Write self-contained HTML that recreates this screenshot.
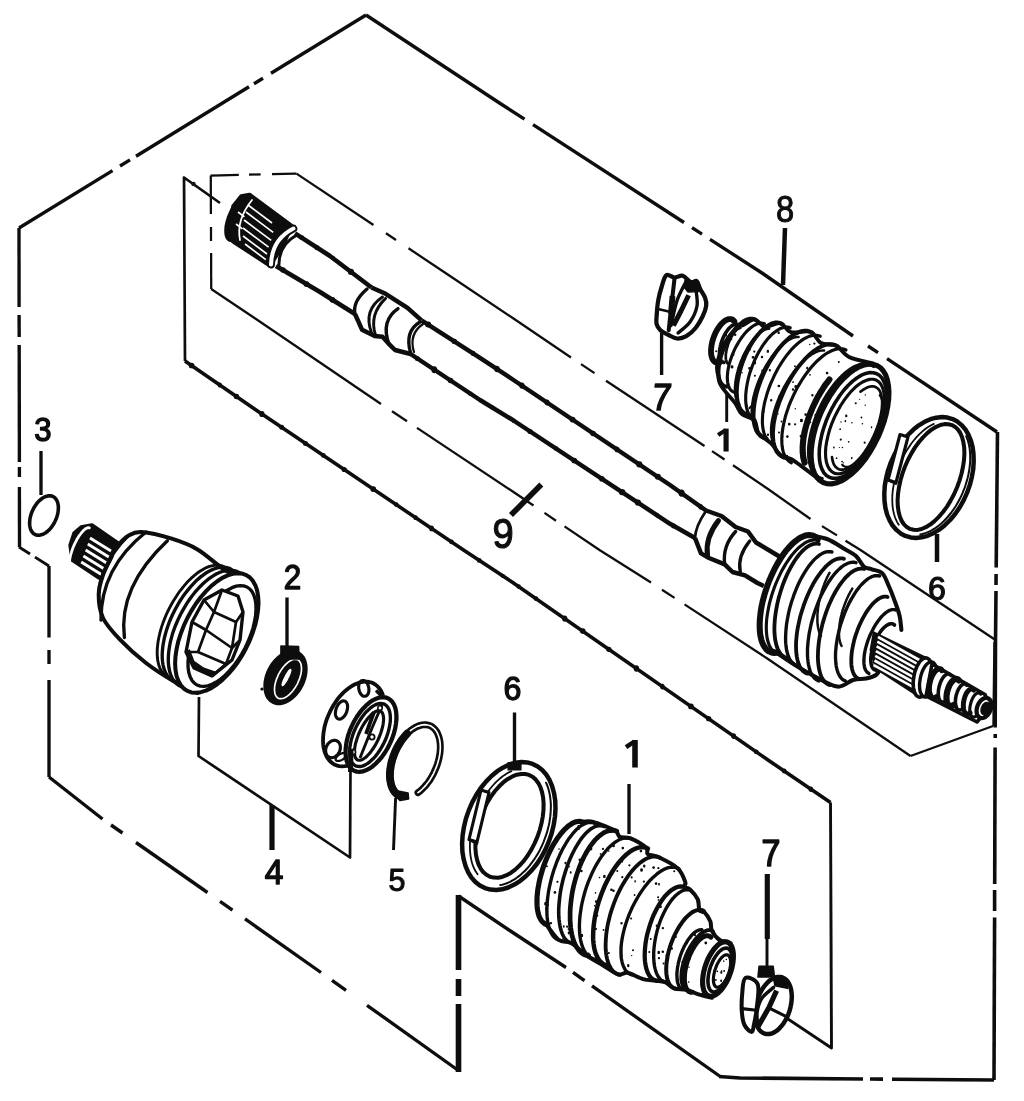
<!DOCTYPE html>
<html><head><meta charset="utf-8"><title>Drive shaft exploded diagram</title>
<style>
html,body{margin:0;padding:0;background:#fff;}
body{width:1024px;height:1101px;overflow:hidden;font-family:"Liberation Sans",sans-serif;}
svg{display:block;}
text{font-family:"Liberation Sans",sans-serif;}
</style></head><body>
<svg width="1024" height="1101" viewBox="0 0 1024 1101">
<defs><filter id="soft" x="-2%" y="-2%" width="104%" height="104%"><feGaussianBlur stdDeviation="0.65"/></filter></defs>
<rect width="1024" height="1101" fill="#ffffff"/>
<g filter="url(#soft)">
<path d="M19.0,228.0 L112.5,170.6" fill="none" stroke="#0c0c0c" stroke-width="3.36" stroke-linecap="butt" stroke-linejoin="round"/>
<path d="M120.0,166.0 L130.0,159.9" fill="none" stroke="#0c0c0c" stroke-width="3.36" stroke-linecap="butt" stroke-linejoin="round"/>
<path d="M136.0,156.2 L249.0,86.8" fill="none" stroke="#0c0c0c" stroke-width="3.36" stroke-linecap="butt" stroke-linejoin="round"/>
<path d="M254.0,83.7 L263.0,78.2" fill="none" stroke="#0c0c0c" stroke-width="3.36" stroke-linecap="butt" stroke-linejoin="round"/>
<path d="M271.0,73.3 L366.0,15.0" fill="none" stroke="#0c0c0c" stroke-width="3.36" stroke-linecap="butt" stroke-linejoin="round"/>
<path d="M366.0,15.0 L501.0,104.0 L524.5,119.2" fill="none" stroke="#0c0c0c" stroke-width="3.36" stroke-linecap="butt" stroke-linejoin="round"/>
<path d="M533.0,124.7 L684.0,222.5" fill="none" stroke="#0c0c0c" stroke-width="3.36" stroke-linecap="butt" stroke-linejoin="round"/>
<path d="M692.0,227.7 L702.0,234.1" fill="none" stroke="#0c0c0c" stroke-width="3.36" stroke-linecap="butt" stroke-linejoin="round"/>
<path d="M710.0,239.3 L762.0,273.0 L853.0,336.0" fill="none" stroke="#0c0c0c" stroke-width="3.36" stroke-linecap="butt" stroke-linejoin="round"/>
<path d="M868.0,346.0 L878.0,352.7" fill="none" stroke="#0c0c0c" stroke-width="3.36" stroke-linecap="butt" stroke-linejoin="round"/>
<path d="M887.0,358.7 L997.0,432.0" fill="none" stroke="#0c0c0c" stroke-width="3.36" stroke-linecap="butt" stroke-linejoin="round"/>
<path d="M997.5,432.0 L996.2,567.5" fill="none" stroke="#0c0c0c" stroke-width="3.58" stroke-linecap="butt" stroke-linejoin="round"/>
<path d="M996.1,574.0 L996.0,585.0" fill="none" stroke="#0c0c0c" stroke-width="3.58" stroke-linecap="butt" stroke-linejoin="round"/>
<path d="M996.0,591.0 L995.5,640.0 L995.2,727.5" fill="none" stroke="#0c0c0c" stroke-width="3.58" stroke-linecap="butt" stroke-linejoin="round"/>
<path d="M995.2,734.0 L995.2,738.0" fill="none" stroke="#0c0c0c" stroke-width="3.58" stroke-linecap="butt" stroke-linejoin="round"/>
<path d="M995.1,747.5 L994.7,884.0" fill="none" stroke="#0c0c0c" stroke-width="3.58" stroke-linecap="butt" stroke-linejoin="round"/>
<path d="M994.6,890.0 L994.6,911.0" fill="none" stroke="#0c0c0c" stroke-width="3.58" stroke-linecap="butt" stroke-linejoin="round"/>
<path d="M994.6,917.5 L994.0,1080.0" fill="none" stroke="#0c0c0c" stroke-width="3.58" stroke-linecap="butt" stroke-linejoin="round"/>
<path d="M719.0,1076.5 L740.0,1078.0 L863.0,1079.0" fill="none" stroke="#0c0c0c" stroke-width="3.58" stroke-linecap="butt" stroke-linejoin="round"/>
<path d="M870.0,1079.0 L883.0,1079.1" fill="none" stroke="#0c0c0c" stroke-width="3.58" stroke-linecap="butt" stroke-linejoin="round"/>
<path d="M892.0,1079.2 L994.0,1080.0" fill="none" stroke="#0c0c0c" stroke-width="3.58" stroke-linecap="butt" stroke-linejoin="round"/>
<path d="M458.5,896.0 L512.0,932.0 L566.0,967.5" fill="none" stroke="#0c0c0c" stroke-width="3.36" stroke-linecap="butt" stroke-linejoin="round"/>
<path d="M573.0,972.4 L584.5,980.6" fill="none" stroke="#0c0c0c" stroke-width="3.36" stroke-linecap="butt" stroke-linejoin="round"/>
<path d="M592.0,985.9 L719.5,1076.0" fill="none" stroke="#0c0c0c" stroke-width="3.36" stroke-linecap="butt" stroke-linejoin="round"/>
<path d="M458.5,895.0 L458.5,970.0" fill="none" stroke="#0c0c0c" stroke-width="5.60" stroke-linecap="butt" stroke-linejoin="round"/>
<path d="M458.5,979.0 L458.5,996.0" fill="none" stroke="#0c0c0c" stroke-width="5.60" stroke-linecap="butt" stroke-linejoin="round"/>
<path d="M458.5,1004.0 L458.5,1072.0" fill="none" stroke="#0c0c0c" stroke-width="5.60" stroke-linecap="butt" stroke-linejoin="round"/>
<path d="M49.0,777.0 L102.5,819.0" fill="none" stroke="#0c0c0c" stroke-width="3.36" stroke-linecap="butt" stroke-linejoin="round"/>
<path d="M111.0,825.0 L122.5,833.0" fill="none" stroke="#0c0c0c" stroke-width="3.36" stroke-linecap="butt" stroke-linejoin="round"/>
<path d="M136.0,842.5 L207.5,892.5" fill="none" stroke="#0c0c0c" stroke-width="3.36" stroke-linecap="butt" stroke-linejoin="round"/>
<path d="M220.0,901.3 L232.5,910.1" fill="none" stroke="#0c0c0c" stroke-width="3.36" stroke-linecap="butt" stroke-linejoin="round"/>
<path d="M245.0,918.9 L321.0,972.5" fill="none" stroke="#0c0c0c" stroke-width="3.36" stroke-linecap="butt" stroke-linejoin="round"/>
<path d="M332.0,980.3 L346.0,990.3" fill="none" stroke="#0c0c0c" stroke-width="3.36" stroke-linecap="butt" stroke-linejoin="round"/>
<path d="M367.0,1005.3 L457.0,1069.5" fill="none" stroke="#0c0c0c" stroke-width="3.36" stroke-linecap="butt" stroke-linejoin="round"/>
<path d="M49.0,566.0 L49.0,637.5" fill="none" stroke="#0c0c0c" stroke-width="3.36" stroke-linecap="butt" stroke-linejoin="round"/>
<path d="M49.0,650.0 L49.0,664.0" fill="none" stroke="#0c0c0c" stroke-width="3.36" stroke-linecap="butt" stroke-linejoin="round"/>
<path d="M49.0,680.0 L49.0,777.0" fill="none" stroke="#0c0c0c" stroke-width="3.36" stroke-linecap="butt" stroke-linejoin="round"/>
<path d="M19.0,547.0 L30.0,554.0" fill="none" stroke="#0c0c0c" stroke-width="2.80" stroke-linecap="butt" stroke-linejoin="round"/>
<path d="M35.0,557.1 L49.0,566.0" fill="none" stroke="#0c0c0c" stroke-width="2.80" stroke-linecap="butt" stroke-linejoin="round"/>
<path d="M19.0,228.0 L19.1,307.0" fill="none" stroke="#0c0c0c" stroke-width="3.36" stroke-linecap="butt" stroke-linejoin="round"/>
<path d="M19.1,315.0 L19.2,337.0" fill="none" stroke="#0c0c0c" stroke-width="3.36" stroke-linecap="butt" stroke-linejoin="round"/>
<path d="M19.2,345.0 L19.4,462.0" fill="none" stroke="#0c0c0c" stroke-width="3.36" stroke-linecap="butt" stroke-linejoin="round"/>
<path d="M19.4,467.0 L19.4,477.0" fill="none" stroke="#0c0c0c" stroke-width="3.36" stroke-linecap="butt" stroke-linejoin="round"/>
<path d="M19.4,487.0 L19.5,547.0" fill="none" stroke="#0c0c0c" stroke-width="3.36" stroke-linecap="butt" stroke-linejoin="round"/>
<path d="M220.0,203.0 L184.0,177.5 L185.0,361.0" fill="none" stroke="#0c0c0c" stroke-width="2.69" stroke-linecap="butt" stroke-linejoin="round"/>
<path d="M185.0,361.0 L256.0,410.0 L463.5,550.0 L512.0,582.0 L768.0,760.0 L830.5,802.5" fill="none" stroke="#0c0c0c" stroke-width="3.58" stroke-linecap="butt" stroke-linejoin="round"/>
<path d="M188.7,365.5a2.8,2.8 0 1,0 5.7,0a2.8,2.8 0 1,0 -5.7,0M217.8,385.0a2.0,2.0 0 1,0 3.9,0a2.0,2.0 0 1,0 -3.9,0M233.7,396.5a2.7,2.7 0 1,0 5.4,0a2.7,2.7 0 1,0 -5.4,0M259.3,414.0a2.6,2.6 0 1,0 5.1,0a2.6,2.6 0 1,0 -5.1,0M279.2,427.3a2.5,2.5 0 1,0 5.0,0a2.5,2.5 0 1,0 -5.0,0M303.0,443.4a2.5,2.5 0 1,0 5.0,0a2.5,2.5 0 1,0 -5.0,0M321.0,455.4a2.3,2.3 0 1,0 4.7,0a2.3,2.3 0 1,0 -4.7,0M341.6,469.5a2.6,2.6 0 1,0 5.2,0a2.6,2.6 0 1,0 -5.2,0M370.4,489.1a2.8,2.8 0 1,0 5.7,0a2.8,2.8 0 1,0 -5.7,0M393.9,504.6a2.3,2.3 0 1,0 4.7,0a2.3,2.3 0 1,0 -4.7,0M413.6,517.6a2.0,2.0 0 1,0 3.9,0a2.0,2.0 0 1,0 -3.9,0M429.2,528.4a2.4,2.4 0 1,0 4.7,0a2.4,2.4 0 1,0 -4.7,0M449.2,541.9a2.3,2.3 0 1,0 4.6,0a2.3,2.3 0 1,0 -4.6,0M476.8,560.4a2.4,2.4 0 1,0 4.8,0a2.4,2.4 0 1,0 -4.8,0M500.5,575.8a2.1,2.1 0 1,0 4.3,0a2.1,2.1 0 1,0 -4.3,0M516.4,586.6a2.2,2.2 0 1,0 4.5,0a2.2,2.2 0 1,0 -4.5,0M533.5,598.6a2.4,2.4 0 1,0 4.8,0a2.4,2.4 0 1,0 -4.8,0M562.2,618.7a2.6,2.6 0 1,0 5.1,0a2.6,2.6 0 1,0 -5.1,0M579.9,631.1a2.8,2.8 0 1,0 5.6,0a2.8,2.8 0 1,0 -5.6,0M606.2,649.3a2.6,2.6 0 1,0 5.3,0a2.6,2.6 0 1,0 -5.3,0M633.7,668.5a2.7,2.7 0 1,0 5.3,0a2.7,2.7 0 1,0 -5.3,0M660.1,686.6a2.3,2.3 0 1,0 4.5,0a2.3,2.3 0 1,0 -4.5,0M688.1,706.4a2.8,2.8 0 1,0 5.7,0a2.8,2.8 0 1,0 -5.7,0M706.0,718.7a2.6,2.6 0 1,0 5.3,0a2.6,2.6 0 1,0 -5.3,0M731.3,736.1a2.4,2.4 0 1,0 4.7,0a2.4,2.4 0 1,0 -4.7,0M753.8,751.8a2.4,2.4 0 1,0 4.8,0a2.4,2.4 0 1,0 -4.8,0M781.7,771.0a2.4,2.4 0 1,0 4.8,0a2.4,2.4 0 1,0 -4.8,0M808.6,789.2a2.3,2.3 0 1,0 4.5,0a2.3,2.3 0 1,0 -4.5,0" fill="#0c0c0c"/>
<path d="M830.5,802.5 L831.5,1048.0 L773.0,1009.0" fill="none" stroke="#0c0c0c" stroke-width="2.91" stroke-linecap="butt" stroke-linejoin="round"/>
<circle cx="193.5" cy="184" r="2.2" fill="#141414"/>
<path d="M994.5,642.0 L993.5,726.0" fill="none" stroke="#0c0c0c" stroke-width="2.46" stroke-linecap="butt" stroke-linejoin="round"/>
<path d="M210.6,175.6 L238.8,174.9" fill="none" stroke="#0c0c0c" stroke-width="2.24" stroke-linecap="butt" stroke-linejoin="round"/>
<path d="M249.0,174.7 L260.6,174.4" fill="none" stroke="#0c0c0c" stroke-width="2.24" stroke-linecap="butt" stroke-linejoin="round"/>
<path d="M272.0,174.2 L296.5,173.6" fill="none" stroke="#0c0c0c" stroke-width="2.24" stroke-linecap="butt" stroke-linejoin="round"/>
<path d="M210.8,175.6 L210.9,214.0" fill="none" stroke="#0c0c0c" stroke-width="2.24" stroke-linecap="butt" stroke-linejoin="round"/>
<path d="M211.0,227.0 L211.0,241.0" fill="none" stroke="#0c0c0c" stroke-width="2.24" stroke-linecap="butt" stroke-linejoin="round"/>
<path d="M211.1,253.0 L211.2,289.0" fill="none" stroke="#0c0c0c" stroke-width="2.24" stroke-linecap="butt" stroke-linejoin="round"/>
<path d="M296.5,173.6 L373.5,225.0" fill="none" stroke="#0c0c0c" stroke-width="2.24" stroke-linecap="butt" stroke-linejoin="round"/>
<path d="M386.0,233.3 L396.0,240.0" fill="none" stroke="#0c0c0c" stroke-width="2.24" stroke-linecap="butt" stroke-linejoin="round"/>
<path d="M408.5,248.3 L448.5,275.0 L512.0,317.5 L571.0,357.5" fill="none" stroke="#0c0c0c" stroke-width="2.24" stroke-linecap="butt" stroke-linejoin="round"/>
<path d="M581.0,364.1 L594.5,373.1" fill="none" stroke="#0c0c0c" stroke-width="2.24" stroke-linecap="butt" stroke-linejoin="round"/>
<path d="M606.0,380.7 L704.5,446.0" fill="none" stroke="#0c0c0c" stroke-width="2.24" stroke-linecap="butt" stroke-linejoin="round"/>
<path d="M712.0,451.1 L724.5,459.5" fill="none" stroke="#0c0c0c" stroke-width="2.24" stroke-linecap="butt" stroke-linejoin="round"/>
<path d="M733.0,465.3 L768.0,489.0 L810.5,519.0" fill="none" stroke="#0c0c0c" stroke-width="2.24" stroke-linecap="butt" stroke-linejoin="round"/>
<path d="M822.0,526.1 L837.0,535.4" fill="none" stroke="#0c0c0c" stroke-width="2.24" stroke-linecap="butt" stroke-linejoin="round"/>
<path d="M845.5,540.7 L860.5,550.0 L995.5,640.0" fill="none" stroke="#0c0c0c" stroke-width="2.24" stroke-linecap="butt" stroke-linejoin="round"/>
<path d="M211.2,289.0 L256.0,319.0 L381.0,404.0" fill="none" stroke="#0c0c0c" stroke-width="2.24" stroke-linecap="butt" stroke-linejoin="round"/>
<path d="M392.0,411.3 L407.0,421.3" fill="none" stroke="#0c0c0c" stroke-width="2.24" stroke-linecap="butt" stroke-linejoin="round"/>
<path d="M417.0,427.9 L512.0,491.0 L533.5,505.5" fill="none" stroke="#0c0c0c" stroke-width="2.24" stroke-linecap="butt" stroke-linejoin="round"/>
<path d="M544.5,512.9 L556.0,520.7" fill="none" stroke="#0c0c0c" stroke-width="2.24" stroke-linecap="butt" stroke-linejoin="round"/>
<path d="M564.5,526.4 L599.5,550.0 L651.0,582.5" fill="none" stroke="#0c0c0c" stroke-width="2.24" stroke-linecap="butt" stroke-linejoin="round"/>
<path d="M662.0,589.7 L674.5,597.9" fill="none" stroke="#0c0c0c" stroke-width="2.24" stroke-linecap="butt" stroke-linejoin="round"/>
<path d="M684.5,604.4 L768.0,659.0 L910.5,756.0" fill="none" stroke="#0c0c0c" stroke-width="2.24" stroke-linecap="butt" stroke-linejoin="round"/>
<path d="M910.5,756.0 L993.0,726.0" fill="none" stroke="#0c0c0c" stroke-width="2.24" stroke-linecap="butt" stroke-linejoin="round"/>
<path d="M199.0,697.0 L198.5,756.0 L350.0,857.5 L350.5,769.0" fill="none" stroke="#0c0c0c" stroke-width="2.69" stroke-linecap="butt" stroke-linejoin="round"/>
<path d="M272.0,805.0 L272.0,850.0" fill="none" stroke="#0c0c0c" stroke-width="5.15" stroke-linecap="butt" stroke-linejoin="round"/>
<path d="M785.0,228.0 L783.0,285.0" fill="none" stroke="#0c0c0c" stroke-width="4.48" stroke-linecap="butt" stroke-linejoin="round"/>
<path d="M661.6,333.0 L661.6,375.0" fill="none" stroke="#0c0c0c" stroke-width="3.36" stroke-linecap="butt" stroke-linejoin="round"/>
<path d="M726.7,392.0 L726.7,422.0" fill="none" stroke="#0c0c0c" stroke-width="2.91" stroke-linecap="butt" stroke-linejoin="round"/>
<path d="M541.3,484.6 L511.0,515.0" fill="none" stroke="#0c0c0c" stroke-width="5.60" stroke-linecap="butt" stroke-linejoin="round"/>
<path d="M41.0,451.0 L41.0,495.0" fill="none" stroke="#0c0c0c" stroke-width="3.36" stroke-linecap="butt" stroke-linejoin="round"/>
<path d="M287.0,597.5 L287.0,646.0" fill="none" stroke="#0c0c0c" stroke-width="3.36" stroke-linecap="butt" stroke-linejoin="round"/>
<path d="M514.5,712.5 L514.5,763.0" fill="none" stroke="#0c0c0c" stroke-width="3.36" stroke-linecap="butt" stroke-linejoin="round"/>
<path d="M629.0,784.0 L629.0,834.0" fill="none" stroke="#0c0c0c" stroke-width="3.36" stroke-linecap="butt" stroke-linejoin="round"/>
<path d="M395.6,798.0 L393.5,850.0" fill="none" stroke="#0c0c0c" stroke-width="2.91" stroke-linecap="butt" stroke-linejoin="round"/>
<path d="M937.0,534.0 L937.0,562.0" fill="none" stroke="#0c0c0c" stroke-width="4.48" stroke-linecap="butt" stroke-linejoin="round"/>
<path d="M767.3,874.0 L767.3,939.0" fill="none" stroke="#0c0c0c" stroke-width="5.15" stroke-linecap="butt" stroke-linejoin="round"/>
<path d="M767.0,939.0 L767.0,967.0" fill="none" stroke="#0c0c0c" stroke-width="2.91" stroke-linecap="butt" stroke-linejoin="round"/>
<text transform="translate(785,222) skewX(0) scale(0.9,1)" x="0" y="0" font-size="36.3" text-anchor="middle" font-weight="normal" fill="#0c0c0c" stroke="#0c0c0c" stroke-width="1.0" stroke-linejoin="round">8</text>
<text transform="translate(660.5,410) skewX(-6) scale(0.9,1)" x="0" y="0" font-size="37.7" text-anchor="middle" font-weight="normal" fill="#0c0c0c" stroke="#0c0c0c" stroke-width="1.7" stroke-linejoin="round">7</text>
<path d="M726.1,428.6 L726.1,451.5" fill="none" stroke="#0c0c0c" stroke-width="5.15" stroke-linecap="butt" stroke-linejoin="round"/>
<path d="M725.6,430.1 L718.1,435.0" fill="none" stroke="#0c0c0c" stroke-width="4.12" stroke-linecap="butt" stroke-linejoin="round"/>
<text transform="translate(503,548) skewX(0) scale(0.88,1)" x="0" y="0" font-size="43.3" text-anchor="middle" font-weight="normal" fill="#0c0c0c" stroke="#0c0c0c" stroke-width="1.2" stroke-linejoin="round">9</text>
<text transform="translate(43,441) skewX(0) scale(0.95,1)" x="0" y="0" font-size="32.8" text-anchor="middle" font-weight="normal" fill="#0c0c0c" stroke="#0c0c0c" stroke-width="1.4" stroke-linejoin="round">3</text>
<text transform="translate(292.5,589) skewX(0) scale(0.92,1)" x="0" y="0" font-size="34.2" text-anchor="middle" font-weight="normal" fill="#0c0c0c" stroke="#0c0c0c" stroke-width="1.4" stroke-linejoin="round">2</text>
<text transform="translate(512.5,700) skewX(0) scale(0.98,1)" x="0" y="0" font-size="32.8" text-anchor="middle" font-weight="normal" fill="#0c0c0c" stroke="#0c0c0c" stroke-width="1.3" stroke-linejoin="round">6</text>
<path d="M635.0,740.0 L635.0,767.5" fill="none" stroke="#0c0c0c" stroke-width="5.60" stroke-linecap="butt" stroke-linejoin="round"/>
<path d="M634.5,741.5 L626.0,747.2" fill="none" stroke="#0c0c0c" stroke-width="4.48" stroke-linecap="butt" stroke-linejoin="round"/>
<text transform="translate(274,884) skewX(0) scale(0.98,1)" x="0" y="0" font-size="34.2" text-anchor="middle" font-weight="normal" fill="#0c0c0c" stroke="#0c0c0c" stroke-width="1.4" stroke-linejoin="round">4</text>
<text transform="translate(397,891) skewX(0) scale(0.95,1)" x="0" y="0" font-size="32.1" text-anchor="middle" font-weight="normal" fill="#0c0c0c" stroke="#0c0c0c" stroke-width="1.1" stroke-linejoin="round">5</text>
<text transform="translate(937,600) skewX(0) scale(0.98,1)" x="0" y="0" font-size="32.8" text-anchor="middle" font-weight="normal" fill="#0c0c0c" stroke="#0c0c0c" stroke-width="1.2" stroke-linejoin="round">6</text>
<text transform="translate(771,865.5) skewX(0) scale(0.9,1)" x="0" y="0" font-size="37.7" text-anchor="middle" font-weight="normal" fill="#0c0c0c" stroke="#0c0c0c" stroke-width="1.6" stroke-linejoin="round">7</text>
<path d="M249.7,194.4 L291.9,225.6 L283.0,246.0 L270.0,266.0 L232.5,241.5 L229.0,225.0 L233.0,206.0 L241.0,196.0 Z" fill="#0c0c0c" stroke="#0c0c0c" stroke-width="3.36" stroke-linejoin="round"/>
<path d="M248.4,195.9 L249.5,196.6 L250.4,197.7 L251.2,199.1 L251.7,200.8 L252.0,202.9 L252.1,205.1 L252.0,207.7 L251.7,210.3 L251.1,213.2 L250.3,216.1 L249.4,219.0 L248.2,221.9 L246.9,224.8 L245.5,227.5 L243.9,230.1 L242.3,232.4 L240.6,234.5 L238.9,236.4 L237.2,237.9 L235.5,239.1 L233.9,239.9 L232.3,240.4 L230.9,240.4 L229.6,240.1 L228.5,239.4 L227.6,238.3 L226.8,236.9 L226.3,235.2 L226.0,233.1 L225.9,230.9 L226.0,228.3 L226.3,225.7 L226.9,222.8 L227.7,219.9 L228.6,217.0 L229.8,214.1 L231.1,211.2 L232.5,208.5 L234.1,205.9 L235.7,203.6 L237.4,201.5 L239.1,199.6 L240.8,198.1 L242.5,196.9 L244.1,196.1 L245.7,195.6 L247.1,195.6 L248.4,195.9 Z" fill="#0c0c0c" stroke="#0c0c0c" stroke-width="3.36" stroke-linecap="round" stroke-linejoin="round"/>
<path d="M248.0,205.0 L272.0,223.0" fill="none" stroke="#fff" stroke-width="1.68" stroke-linecap="butt" stroke-linejoin="round"/>
<path d="M246.0,212.0 L273.2,232.4" fill="none" stroke="#fff" stroke-width="1.68" stroke-linecap="butt" stroke-linejoin="round"/>
<path d="M244.0,220.0 L271.2,240.4" fill="none" stroke="#fff" stroke-width="1.68" stroke-linecap="butt" stroke-linejoin="round"/>
<path d="M243.0,228.0 L268.6,247.2" fill="none" stroke="#fff" stroke-width="1.68" stroke-linecap="butt" stroke-linejoin="round"/>
<path d="M243.0,236.0 L267.0,254.0" fill="none" stroke="#fff" stroke-width="1.68" stroke-linecap="butt" stroke-linejoin="round"/>
<path d="M245.0,244.0 L265.8,259.6" fill="none" stroke="#fff" stroke-width="1.68" stroke-linecap="butt" stroke-linejoin="round"/>
<path d="M238.0,212.0 L244.4,216.8" fill="none" stroke="#fff" stroke-width="1.68" stroke-linecap="butt" stroke-linejoin="round"/>
<path d="M236.0,224.0 L242.4,228.8" fill="none" stroke="#fff" stroke-width="1.68" stroke-linecap="butt" stroke-linejoin="round"/>
<path d="M252.0,200.0 Q236.0,220.0 240.0,240.0" fill="none" stroke="#fff" stroke-width="1.79" stroke-linecap="round"/>
<path d="M293.4,228.5 Q271.8,239.5 271.0,264.5" fill="none" stroke="#0c0c0c" stroke-width="7.84" stroke-linecap="round"/>
<path d="M293.4,228.5 Q271.8,239.5 271.0,264.5" fill="none" stroke="#fff" stroke-width="4.03" stroke-linecap="round"/>
<path d="M295.0,233.4 L330.0,256.0 L371.5,287.5" fill="none" stroke="#0c0c0c" stroke-width="4.48" stroke-linecap="butt" stroke-linejoin="round"/>
<path d="M276.0,266.0 L320.0,292.0 L355.0,314.0" fill="none" stroke="#0c0c0c" stroke-width="4.48" stroke-linecap="butt" stroke-linejoin="round"/>
<path d="M421.5,320.3 L480.0,357.8 L512.0,379.0 L670.0,485.0 L706.0,510.5" fill="none" stroke="#0c0c0c" stroke-width="4.48" stroke-linecap="butt" stroke-linejoin="round"/>
<path d="M410.6,354.0 L480.0,400.0 L512.0,419.5 L670.0,523.8 L695.0,538.0" fill="none" stroke="#0c0c0c" stroke-width="4.48" stroke-linecap="butt" stroke-linejoin="round"/>
<path d="M297.0,235.0 Q278.0,245.0 279.0,267.0" fill="none" stroke="#0c0c0c" stroke-width="2.91" stroke-linecap="round"/>
<path d="M371.5,287.5 L385.6,293.8 L407.5,307.8 L421.5,320.3" fill="none" stroke="#0c0c0c" stroke-width="4.48" stroke-linecap="butt" stroke-linejoin="round"/>
<path d="M355.0,314.0 L362.0,329.7 L374.7,336.0 L382.5,336.7 L388.8,343.8 L395.0,350.0 L410.6,354.0" fill="none" stroke="#0c0c0c" stroke-width="4.48" stroke-linecap="butt" stroke-linejoin="round"/>
<path d="M367.0,289.0 Q352.4,301.5 355.0,314.0" fill="none" stroke="#0c0c0c" stroke-width="3.36" stroke-linecap="round"/>
<path d="M382.5,297.0 Q363.0,310.1 371.5,332.8" fill="none" stroke="#0c0c0c" stroke-width="2.91" stroke-linecap="round"/>
<path d="M385.6,298.4 Q368.8,314.5 375.5,335.0" fill="none" stroke="#0c0c0c" stroke-width="2.91" stroke-linecap="round"/>
<path d="M398.0,308.6 Q380.6,320.6 388.8,343.8" fill="none" stroke="#0c0c0c" stroke-width="3.36" stroke-linecap="round"/>
<path d="M420.0,322.0 Q404.3,331.3 410.6,353.0" fill="none" stroke="#0c0c0c" stroke-width="3.36" stroke-linecap="round"/>
<path d="M423.0,324.0 Q408.5,334.0 414.0,352.0" fill="none" stroke="#0c0c0c" stroke-width="2.24" stroke-linecap="round"/>
<path d="M706.0,510.5 L721.5,516.0 L735.6,527.0 L748.0,531.5 L756.0,542.5 L779.4,556.5" fill="none" stroke="#0c0c0c" stroke-width="4.48" stroke-linecap="butt" stroke-linejoin="round"/>
<path d="M695.0,538.0 L701.0,553.4 L709.0,558.0 L724.7,564.4 L732.5,572.0 L745.0,575.3 L757.5,583.0 L763.8,586.0" fill="none" stroke="#0c0c0c" stroke-width="4.48" stroke-linecap="butt" stroke-linejoin="round"/>
<path d="M706.0,511.0 Q695.5,526.1 695.0,538.0" fill="none" stroke="#0c0c0c" stroke-width="2.69" stroke-linecap="round"/>
<path d="M718.4,520.6 Q705.0,537.8 707.5,555.0" fill="none" stroke="#0c0c0c" stroke-width="5.04" stroke-linecap="round"/>
<path d="M735.6,531.5 Q722.3,546.0 724.7,564.4" fill="none" stroke="#0c0c0c" stroke-width="3.36" stroke-linecap="round"/>
<path d="M749.7,541.0 Q737.0,556.5 740.3,572.0" fill="none" stroke="#0c0c0c" stroke-width="3.36" stroke-linecap="round"/>
<path d="M299.4,237.7a2.3,2.3 0 1,0 4.7,0a2.3,2.3 0 1,0 -4.7,0M314.6,247.7a2.5,2.5 0 1,0 5.0,0a2.5,2.5 0 1,0 -5.0,0M330.8,258.2a2.1,2.1 0 1,0 4.3,0a2.1,2.1 0 1,0 -4.3,0M347.9,271.9a3.0,3.0 0 1,0 6.1,0a3.0,3.0 0 1,0 -6.1,0" fill="#0c0c0c"/>
<path d="M280.2,270.1a2.7,2.7 0 1,0 5.5,0a2.7,2.7 0 1,0 -5.5,0M303.6,284.1a2.9,2.9 0 1,0 5.8,0a2.9,2.9 0 1,0 -5.8,0M329.6,299.8a2.8,2.8 0 1,0 5.7,0a2.8,2.8 0 1,0 -5.7,0" fill="#0c0c0c"/>
<path d="M425.2,324.6a3.0,3.0 0 1,0 6.0,0a3.0,3.0 0 1,0 -6.0,0M451.7,341.4a2.7,2.7 0 1,0 5.4,0a2.7,2.7 0 1,0 -5.4,0M470.9,353.4a2.2,2.2 0 1,0 4.3,0a2.2,2.2 0 1,0 -4.3,0M494.3,369.0a2.7,2.7 0 1,0 5.3,0a2.7,2.7 0 1,0 -5.3,0M519.4,385.7a2.6,2.6 0 1,0 5.1,0a2.6,2.6 0 1,0 -5.1,0M544.6,402.5a2.5,2.5 0 1,0 4.9,0a2.5,2.5 0 1,0 -4.9,0M569.6,419.6a2.9,2.9 0 1,0 5.9,0a2.9,2.9 0 1,0 -5.9,0M590.3,433.4a2.7,2.7 0 1,0 5.5,0a2.7,2.7 0 1,0 -5.5,0M614.6,449.4a2.4,2.4 0 1,0 4.7,0a2.4,2.4 0 1,0 -4.7,0M636.3,464.4a3.0,3.0 0 1,0 6.1,0a3.0,3.0 0 1,0 -6.1,0M654.8,476.8a3.0,3.0 0 1,0 6.1,0a3.0,3.0 0 1,0 -6.1,0M678.6,493.2a3.1,3.1 0 1,0 6.1,0a3.1,3.1 0 1,0 -6.1,0M698.5,506.8a2.3,2.3 0 1,0 4.5,0a2.3,2.3 0 1,0 -4.5,0" fill="#0c0c0c"/>
<path d="M414.8,358.4a2.5,2.5 0 1,0 5.0,0a2.5,2.5 0 1,0 -5.0,0M431.5,369.8a2.9,2.9 0 1,0 5.7,0a2.9,2.9 0 1,0 -5.7,0M447.8,380.5a2.7,2.7 0 1,0 5.5,0a2.7,2.7 0 1,0 -5.5,0M468.2,393.7a2.2,2.2 0 1,0 4.4,0a2.2,2.2 0 1,0 -4.4,0M490.3,407.6a2.2,2.2 0 1,0 4.4,0a2.2,2.2 0 1,0 -4.4,0M511.5,420.7a2.2,2.2 0 1,0 4.5,0a2.2,2.2 0 1,0 -4.5,0M527.5,431.5a2.6,2.6 0 1,0 5.2,0a2.6,2.6 0 1,0 -5.2,0M553.8,448.6a2.3,2.3 0 1,0 4.6,0a2.3,2.3 0 1,0 -4.6,0M571.4,460.5a2.8,2.8 0 1,0 5.7,0a2.8,2.8 0 1,0 -5.7,0M599.0,478.7a2.8,2.8 0 1,0 5.6,0a2.8,2.8 0 1,0 -5.6,0M618.9,492.1a3.2,3.2 0 1,0 6.4,0a3.2,3.2 0 1,0 -6.4,0M634.8,502.6a3.1,3.1 0 1,0 6.2,0a3.1,3.1 0 1,0 -6.2,0M654.5,515.1a2.3,2.3 0 1,0 4.6,0a2.3,2.3 0 1,0 -4.6,0M671.2,525.9a2.5,2.5 0 1,0 5.0,0a2.5,2.5 0 1,0 -5.0,0" fill="#0c0c0c"/>
<path d="M808.5,535.0 L827.0,539.0 L845.5,549.5 L856.0,556.0 L864.0,566.7 L871.8,569.3 L882.4,573.3 L889.0,586.5 L894.2,599.6 L899.5,615.5 L901.4,630.0 L900.0,645.0 L884.0,668.0 L881.0,668.0 L876.0,675.0 L866.0,678.5 L853.0,680.0 L837.5,686.6 L814.0,676.0 L795.0,665.0 L774.0,651.0 L769.2,651.6 L767.8,650.6 L766.4,649.4 L765.2,648.0 L764.1,646.3 L763.1,644.4 L762.2,642.3 L761.4,640.0 L760.8,637.5 L760.3,634.8 L759.9,631.9 L759.7,628.9 L759.6,625.7 L759.7,622.4 L759.9,619.0 L760.2,615.4 L760.7,611.8 L761.3,608.1 L762.0,604.3 L762.9,600.5 L763.9,596.6 L765.0,592.8 L766.2,588.9 L767.6,585.1 L769.0,581.3 L770.5,577.6 L772.2,573.9 L773.9,570.3 L775.7,566.9 L777.5,563.5 L779.5,560.3 L781.4,557.2 L783.5,554.2 L785.5,551.5 L787.6,548.9 L789.7,546.5 L791.8,544.3 L793.9,542.4 L796.1,540.6 L798.1,539.1 L800.2,537.8 L802.2,536.8 L804.2,536.0 L806.2,535.4 L808.0,535.1 L809.8,535.1 L811.6,535.3 Z" fill="#fff" stroke="#0c0c0c" stroke-width="0.00" stroke-linejoin="round"/>
<path d="M776.3,652.8 L774.3,652.9 L772.3,652.7 L770.5,652.1 L768.7,651.3 L767.1,650.1 L765.7,648.6 L764.4,646.8 L763.2,644.7 L762.2,642.3 L761.3,639.7 L760.7,636.8 L760.1,633.7 L759.8,630.3 L759.7,626.8 L759.7,623.1 L759.9,619.2 L760.3,615.2 L760.8,611.1 L761.5,606.8 L762.4,602.5 L763.5,598.2 L764.7,593.8 L766.1,589.4 L767.6,585.1 L769.2,580.8 L771.0,576.6 L772.9,572.5 L774.8,568.5 L776.9,564.6 L779.1,560.9 L781.3,557.4 L783.6,554.0 L785.9,550.9 L788.3,548.1 L790.7,545.5 L793.1,543.1 L795.5,541.1 L797.9,539.3 L800.2,537.8 L802.5,536.7 L804.7,535.8 L806.9,535.3 L809.0,535.1 L811.0,535.2 L812.9,535.6 L814.7,536.4 L816.3,537.5 L817.8,538.9" fill="none" stroke="#0c0c0c" stroke-width="6.05" stroke-linecap="round" stroke-linejoin="round"/>
<path d="M777.8,653.6 L776.2,653.1 L774.8,652.3 L773.4,651.2 L772.1,649.9 L771.0,648.3 L769.9,646.6 L769.0,644.6 L768.2,642.4 L767.6,640.0 L767.0,637.4 L766.7,634.6 L766.4,631.6 L766.3,628.5 L766.3,625.3 L766.5,621.9 L766.8,618.4 L767.3,614.8 L767.9,611.2 L768.6,607.4 L769.4,603.7 L770.4,599.9 L771.5,596.0 L772.7,592.2 L774.0,588.4 L775.4,584.7 L777.0,581.0 L778.6,577.4 L780.3,573.8 L782.0,570.4 L783.9,567.1 L785.8,563.9 L787.8,560.9 L789.8,558.0 L791.8,555.3 L793.9,552.8 L795.9,550.5 L798.0,548.4 L800.1,546.5 L802.2,544.9 L804.2,543.4 L806.3,542.2 L808.2,541.3 L810.2,540.6 L812.1,540.2 L813.9,540.0 L815.6,540.0 L817.3,540.4 L818.8,541.0" fill="none" stroke="#0c0c0c" stroke-width="3.14" stroke-linecap="round" stroke-linejoin="round"/>
<path d="M786.0,657.6 L784.5,657.0 L783.2,656.3 L781.9,655.2 L780.7,654.0 L779.6,652.5 L778.6,650.8 L777.7,648.8 L776.9,646.7 L776.2,644.4 L775.6,641.8 L775.1,639.2 L774.8,636.3 L774.5,633.3 L774.4,630.1 L774.4,626.9 L774.6,623.5 L774.8,620.0 L775.2,616.4 L775.7,612.8 L776.3,609.1 L777.0,605.4 L777.8,601.7 L778.7,597.9 L779.8,594.2 L780.9,590.5 L782.1,586.8 L783.4,583.2 L784.8,579.7 L786.3,576.3 L787.8,573.0 L789.4,569.8 L791.1,566.7 L792.8,563.8 L794.5,561.0 L796.3,558.4 L798.1,556.0 L799.9,553.7 L801.8,551.7 L803.6,549.9 L805.4,548.3 L807.2,546.9 L809.0,545.8 L810.8,544.9 L812.6,544.2 L814.3,543.8 L815.9,543.6 L817.5,543.7 L819.0,544.0" fill="none" stroke="#0c0c0c" stroke-width="3.81" stroke-linecap="round" stroke-linejoin="round"/>
<path d="M796.7,665.5 L795.3,664.9 L793.9,664.1 L792.6,663.0 L791.4,661.7 L790.3,660.2 L789.4,658.5 L788.5,656.5 L787.7,654.4 L787.1,652.0 L786.5,649.5 L786.1,646.8 L785.8,643.9 L785.6,640.9 L785.6,637.7 L785.7,634.4 L785.9,631.0 L786.2,627.5 L786.6,623.9 L787.2,620.3 L787.9,616.6 L788.6,612.9 L789.5,609.2 L790.5,605.4 L791.6,601.7 L792.9,598.0 L794.1,594.3 L795.5,590.8 L797.0,587.2 L798.5,583.8 L800.1,580.5 L801.8,577.3 L803.5,574.3 L805.3,571.4 L807.1,568.6 L808.9,566.0 L810.8,563.6 L812.7,561.4 L814.5,559.4 L816.4,557.6 L818.3,556.1 L820.1,554.7 L822.0,553.6 L823.8,552.7 L825.5,552.1 L827.2,551.7 L828.9,551.6 L830.5,551.7 L832.0,552.0" fill="none" stroke="#0c0c0c" stroke-width="3.36" stroke-linecap="round" stroke-linejoin="round"/>
<path d="M807.0,673.5 L805.5,672.9 L804.2,672.0 L802.9,671.0 L801.7,669.6 L800.6,668.1 L799.6,666.3 L798.8,664.3 L798.0,662.1 L797.4,659.7 L796.9,657.1 L796.5,654.4 L796.2,651.5 L796.1,648.4 L796.0,645.2 L796.1,641.9 L796.4,638.4 L796.7,634.9 L797.2,631.3 L797.8,627.6 L798.6,623.8 L799.4,620.1 L800.3,616.3 L801.4,612.5 L802.6,608.8 L803.8,605.0 L805.2,601.3 L806.6,597.7 L808.1,594.2 L809.7,590.7 L811.4,587.4 L813.1,584.1 L814.9,581.1 L816.7,578.1 L818.6,575.4 L820.5,572.8 L822.4,570.4 L824.3,568.2 L826.2,566.1 L828.1,564.4 L830.1,562.8 L831.9,561.4 L833.8,560.3 L835.6,559.5 L837.4,558.8 L839.2,558.5 L840.8,558.3 L842.5,558.4 L844.0,558.8" fill="none" stroke="#0c0c0c" stroke-width="3.81" stroke-linecap="round" stroke-linejoin="round"/>
<path d="M819.0,681.0 L817.5,680.4 L816.1,679.5 L814.7,678.4 L813.5,677.1 L812.4,675.5 L811.4,673.7 L810.4,671.6 L809.6,669.4 L809.0,666.9 L808.4,664.3 L808.0,661.4 L807.7,658.4 L807.5,655.3 L807.5,652.0 L807.5,648.6 L807.8,645.0 L808.1,641.4 L808.6,637.6 L809.1,633.9 L809.9,630.0 L810.7,626.1 L811.6,622.2 L812.7,618.3 L813.8,614.5 L815.1,610.6 L816.5,606.8 L817.9,603.1 L819.4,599.4 L821.0,595.8 L822.7,592.4 L824.5,589.1 L826.3,585.9 L828.1,582.8 L830.0,580.0 L831.9,577.3 L833.9,574.8 L835.8,572.5 L837.8,570.4 L839.7,568.6 L841.7,566.9 L843.6,565.5 L845.5,564.4 L847.4,563.5 L849.2,562.8 L851.0,562.4 L852.8,562.2 L854.4,562.3 L856.0,562.7" fill="none" stroke="#0c0c0c" stroke-width="3.36" stroke-linecap="round" stroke-linejoin="round"/>
<path d="M829.6,685.0 L828.1,684.4 L826.7,683.6 L825.4,682.5 L824.2,681.2 L823.1,679.7 L822.0,678.0 L821.1,676.0 L820.3,673.8 L819.6,671.4 L819.0,668.8 L818.6,666.1 L818.2,663.1 L818.0,660.1 L817.9,656.8 L818.0,653.5 L818.1,650.0 L818.4,646.5 L818.8,642.8 L819.3,639.1 L819.9,635.4 L820.7,631.6 L821.6,627.7 L822.5,623.9 L823.6,620.1 L824.8,616.3 L826.0,612.6 L827.4,608.9 L828.8,605.3 L830.4,601.8 L831.9,598.4 L833.6,595.2 L835.3,592.0 L837.1,589.1 L838.9,586.2 L840.7,583.6 L842.6,581.1 L844.4,578.9 L846.3,576.8 L848.2,575.0 L850.1,573.3 L852.0,571.9 L853.8,570.8 L855.6,569.9 L857.4,569.2 L859.1,568.8 L860.8,568.6 L862.4,568.7 L864.0,569.0" fill="none" stroke="#0c0c0c" stroke-width="3.81" stroke-linecap="round" stroke-linejoin="round"/>
<path d="M845.5,681.0 L844.2,680.4 L842.9,679.7 L841.7,678.7 L840.6,677.4 L839.7,676.0 L838.8,674.4 L838.0,672.6 L837.3,670.5 L836.7,668.4 L836.2,666.0 L835.9,663.5 L835.7,660.8 L835.5,658.0 L835.5,655.0 L835.6,652.0 L835.9,648.8 L836.2,645.6 L836.7,642.3 L837.2,638.9 L837.9,635.5 L838.7,632.0 L839.5,628.6 L840.5,625.1 L841.6,621.7 L842.8,618.2 L844.0,614.9 L845.3,611.5 L846.7,608.3 L848.2,605.1 L849.7,602.1 L851.3,599.1 L853.0,596.3 L854.6,593.6 L856.3,591.1 L858.1,588.7 L859.8,586.5 L861.6,584.5 L863.4,582.7 L865.2,581.0 L866.9,579.6 L868.6,578.4 L870.4,577.4 L872.0,576.6 L873.7,576.0 L875.3,575.7 L876.8,575.6 L878.3,575.7 L879.7,576.0" fill="none" stroke="#0c0c0c" stroke-width="3.36" stroke-linecap="round" stroke-linejoin="round"/>
<path d="M858.6,678.7 L857.6,678.2 L856.6,677.6 L855.7,676.8 L854.9,675.8 L854.1,674.7 L853.5,673.4 L852.9,671.9 L852.4,670.3 L852.0,668.6 L851.6,666.7 L851.4,664.7 L851.3,662.6 L851.3,660.4 L851.3,658.1 L851.5,655.7 L851.7,653.3 L852.0,650.7 L852.5,648.1 L853.0,645.5 L853.6,642.8 L854.2,640.1 L855.0,637.4 L855.8,634.7 L856.8,632.1 L857.7,629.4 L858.8,626.8 L859.9,624.2 L861.1,621.7 L862.3,619.2 L863.6,616.9 L864.9,614.6 L866.2,612.4 L867.6,610.3 L869.0,608.4 L870.4,606.6 L871.8,604.9 L873.2,603.3 L874.7,601.9 L876.1,600.7 L877.5,599.6 L878.9,598.6 L880.2,597.9 L881.6,597.3 L882.9,596.9 L884.1,596.7 L885.3,596.6 L886.5,596.7 L887.6,597.0" fill="none" stroke="#0c0c0c" stroke-width="3.81" stroke-linecap="round" stroke-linejoin="round"/>
<path d="M869.0,673.5 L868.2,673.1 L867.5,672.5 L866.8,671.9 L866.2,671.0 L865.6,670.1 L865.1,669.1 L864.7,667.9 L864.4,666.6 L864.2,665.2 L864.0,663.7 L863.9,662.1 L863.9,660.5 L864.0,658.7 L864.1,656.9 L864.3,655.0 L864.6,653.0 L865.0,651.0 L865.4,649.0 L866.0,646.9 L866.6,644.8 L867.2,642.7 L867.9,640.6 L868.7,638.5 L869.5,636.5 L870.4,634.4 L871.4,632.4 L872.4,630.4 L873.4,628.4 L874.5,626.5 L875.6,624.7 L876.7,623.0 L877.9,621.3 L879.1,619.7 L880.2,618.2 L881.4,616.8 L882.6,615.6 L883.8,614.4 L885.0,613.3 L886.2,612.4 L887.4,611.6 L888.5,610.9 L889.6,610.4 L890.7,610.0 L891.8,609.7 L892.8,609.6 L893.7,609.6 L894.6,609.7 L895.5,610.0" fill="none" stroke="#0c0c0c" stroke-width="3.36" stroke-linecap="round" stroke-linejoin="round"/>
<path d="M808.5,535.0 C811.6,535.7 820.8,536.6 827.0,539.0 C833.2,541.4 840.7,546.7 845.5,549.5 C850.3,552.3 852.9,553.1 856.0,556.0 C859.1,558.9 861.4,564.5 864.0,566.7 C866.6,568.9 868.7,568.2 871.8,569.3 C874.9,570.4 879.5,570.4 882.4,573.3 C885.3,576.2 887.0,582.1 889.0,586.5 C891.0,590.9 892.5,594.8 894.2,599.6 C896.0,604.4 898.3,610.4 899.5,615.5 C900.7,620.6 901.1,627.6 901.4,630.0" fill="none" stroke="#0c0c0c" stroke-width="4.03" stroke-linecap="round" stroke-linejoin="round"/>
<path d="M774.0,651.0 C777.5,653.3 788.3,660.8 795.0,665.0 C801.7,669.2 806.9,672.4 814.0,676.0 C821.1,679.6 831.0,685.9 837.5,686.6 C844.0,687.3 848.2,681.4 853.0,680.0 C857.8,678.6 862.2,679.3 866.0,678.5 C869.8,677.7 873.5,676.8 876.0,675.0 C878.5,673.2 880.2,669.2 881.0,668.0" fill="none" stroke="#0c0c0c" stroke-width="4.03" stroke-linecap="round" stroke-linejoin="round"/>
<path d="M821.0,635.8 L820.6,635.1 L820.2,634.4 L819.8,633.5 L819.5,632.7 L819.1,631.8 L818.9,630.8 L818.6,629.9 L818.3,628.8 L818.1,627.8 L817.9,626.6 L817.8,625.5 L817.6,624.3 L817.5,623.1 L817.4,621.8 L817.4,620.5 L817.4,619.2 L817.4,617.9 L817.4,616.5 L817.4,615.1 L817.5,613.7 L817.6,612.3 L817.8,610.8 L817.9,609.3 L818.1,607.9 L818.3,606.4 L818.6,604.8 L818.8,603.3 L819.1,601.8 L819.4,600.3 L819.8,598.7 L820.1,597.2 L820.5,595.7 L820.9,594.1 L821.4,592.6 L821.8,591.1 L822.3,589.6 L822.8,588.1 L823.3,586.6 L823.9,585.1 L824.4,583.6 L825.0,582.2 L825.6,580.8 L826.2,579.4 L826.8,578.0 L827.5,576.7 L828.1,575.4 L828.8,574.1 L829.5,572.8" fill="none" stroke="#0c0c0c" stroke-width="2.46" stroke-linecap="round" stroke-linejoin="round"/>
<path d="M841.6,645.9 L841.2,645.3 L840.9,644.5 L840.6,643.8 L840.3,643.0 L840.1,642.1 L839.9,641.3 L839.7,640.3 L839.5,639.4 L839.3,638.4 L839.2,637.4 L839.1,636.3 L839.1,635.2 L839.0,634.1 L839.0,632.9 L839.0,631.7 L839.0,630.5 L839.1,629.3 L839.2,628.0 L839.3,626.8 L839.5,625.5 L839.6,624.1 L839.8,622.8 L840.0,621.5 L840.3,620.1 L840.5,618.7 L840.8,617.4 L841.1,616.0 L841.5,614.6 L841.8,613.2 L842.2,611.8 L842.6,610.4 L843.1,609.0 L843.5,607.6 L844.0,606.2 L844.5,604.9 L845.0,603.5 L845.5,602.2 L846.1,600.8 L846.6,599.5 L847.2,598.2 L847.8,596.9 L848.4,595.6 L849.0,594.4 L849.7,593.1 L850.3,591.9 L851.0,590.8 L851.7,589.6 L852.3,588.5" fill="none" stroke="#0c0c0c" stroke-width="2.46" stroke-linecap="round" stroke-linejoin="round"/>
<path d="M878.8,669.9 L877.9,670.2 L877.1,670.3 L876.2,670.3 L875.4,670.1 L874.7,669.9 L874.0,669.5 L873.4,668.9 L872.8,668.2 L872.3,667.4 L871.9,666.5 L871.5,665.5 L871.2,664.4 L871.0,663.1 L870.9,661.8 L870.8,660.4 L870.8,658.9 L870.9,657.3 L871.1,655.7 L871.3,654.0 L871.6,652.3 L872.0,650.6 L872.5,648.8 L873.0,647.0 L873.6,645.2 L874.2,643.5 L874.9,641.7 L875.7,640.0 L876.5,638.3 L877.4,636.7 L878.3,635.1 L879.2,633.6 L880.1,632.2 L881.1,630.9 L882.1,629.7 L883.1,628.5 L884.1,627.5 L885.1,626.6 L886.1,625.8 L887.1,625.1 L888.1,624.6 L889.0,624.1 L889.9,623.9 L890.8,623.7 L891.7,623.7 L892.5,623.8 L893.2,624.1 L893.9,624.5 L894.5,625.0" fill="none" stroke="#0c0c0c" stroke-width="3.58" stroke-linecap="round" stroke-linejoin="round"/>
<path d="M874.0,633.0 L924.5,657.6 L927.0,676.0 L919.0,696.0 L876.0,668.0 L871.0,650.0 Z" fill="#0c0c0c" stroke="#0c0c0c" stroke-width="2.80" stroke-linejoin="round"/>
<path d="M878.0,637.0 L922.0,661.5" fill="none" stroke="#fff" stroke-width="2.58" stroke-linecap="butt" stroke-linejoin="round"/>
<path d="M877.3,641.7 L921.3,666.2" fill="none" stroke="#fff" stroke-width="2.58" stroke-linecap="butt" stroke-linejoin="round"/>
<path d="M876.6,646.4 L920.6,670.9" fill="none" stroke="#fff" stroke-width="2.58" stroke-linecap="butt" stroke-linejoin="round"/>
<path d="M875.9,651.1 L919.9,675.6" fill="none" stroke="#fff" stroke-width="2.58" stroke-linecap="butt" stroke-linejoin="round"/>
<path d="M875.2,655.8 L919.2,680.3" fill="none" stroke="#fff" stroke-width="2.58" stroke-linecap="butt" stroke-linejoin="round"/>
<path d="M874.5,660.5 L918.5,685.0" fill="none" stroke="#fff" stroke-width="2.58" stroke-linecap="butt" stroke-linejoin="round"/>
<path d="M873.8,665.2 L917.8,689.7" fill="none" stroke="#fff" stroke-width="2.58" stroke-linecap="butt" stroke-linejoin="round"/>
<path d="M926.5,658.0 L927.6,658.4 L928.6,659.1 L929.6,660.1 L930.4,661.5 L931.1,663.1 L931.6,664.9 L932.0,667.0 L932.2,669.2 L932.3,671.6 L932.2,674.1 L931.9,676.6 L931.5,679.2 L931.0,681.7 L930.3,684.2 L929.4,686.5 L928.5,688.7 L927.4,690.7 L926.3,692.5 L925.1,694.0 L923.9,695.2 L922.6,696.2 L921.4,696.8 L920.2,697.1 L919.0,697.0 L917.9,696.6 L916.9,695.9 L915.9,694.9 L915.1,693.5 L914.4,691.9 L913.9,690.1 L913.5,688.0 L913.3,685.8 L913.2,683.4 L913.3,680.9 L913.6,678.4 L914.0,675.8 L914.5,673.3 L915.2,670.8 L916.1,668.5 L917.0,666.3 L918.1,664.3 L919.2,662.5 L920.4,661.0 L921.6,659.8 L922.9,658.8 L924.1,658.2 L925.3,657.9 L926.5,658.0 Z" fill="#fff" stroke="#0c0c0c" stroke-width="3.58" stroke-linecap="round" stroke-linejoin="round"/>
<path d="M932.0,662.0 L933.0,662.4 L933.9,663.0 L934.7,664.0 L935.4,665.2 L936.0,666.6 L936.5,668.3 L936.8,670.2 L936.9,672.2 L937.0,674.4 L936.8,676.6 L936.5,678.9 L936.1,681.2 L935.6,683.5 L934.9,685.7 L934.1,687.8 L933.2,689.7 L932.2,691.5 L931.2,693.1 L930.1,694.4 L928.9,695.5 L927.8,696.3 L926.7,696.8 L925.6,697.1 L924.5,697.0 L923.5,696.6 L922.6,696.0 L921.8,695.0 L921.1,693.8 L920.5,692.4 L920.0,690.7 L919.7,688.8 L919.6,686.8 L919.5,684.6 L919.7,682.4 L920.0,680.1 L920.4,677.8 L920.9,675.5 L921.6,673.3 L922.4,671.2 L923.3,669.3 L924.3,667.5 L925.3,665.9 L926.4,664.6 L927.6,663.5 L928.7,662.7 L929.8,662.2 L930.9,661.9 L932.0,662.0 Z" fill="#fff" stroke="#0c0c0c" stroke-width="3.36" stroke-linecap="round" stroke-linejoin="round"/>
<path d="M932.0,664.0 L985.0,694.5 L990.0,706.0 L977.0,722.0 L926.0,696.0 Z" fill="#fff" stroke="#0c0c0c" stroke-width="3.58" stroke-linejoin="round"/>
<path d="M936.7,696.8 L936.1,697.3 L935.5,697.6 L934.9,697.9 L934.3,698.0 L933.7,698.1 L933.1,698.0 L932.6,697.9 L932.1,697.6 L931.6,697.3 L931.2,696.8 L930.8,696.3 L930.4,695.6 L930.1,694.9 L929.8,694.1 L929.5,693.2 L929.4,692.3 L929.2,691.3 L929.1,690.2 L929.1,689.1 L929.1,688.0 L929.2,686.8 L929.3,685.6 L929.5,684.4 L929.7,683.2 L930.0,682.0 L930.3,680.8 L930.6,679.6 L931.0,678.4 L931.5,677.3 L931.9,676.2 L932.4,675.2 L933.0,674.2 L933.5,673.3 L934.1,672.5 L934.7,671.7 L935.3,671.0 L935.9,670.4 L936.5,669.9 L937.2,669.5 L937.8,669.2 L938.4,669.0 L939.0,668.9 L939.5,668.9 L940.1,669.0 L940.6,669.2 L941.1,669.5 L941.6,669.9 L942.0,670.4" fill="none" stroke="#0c0c0c" stroke-width="5.60" stroke-linecap="round" stroke-linejoin="round"/>
<path d="M945.6,700.9 L945.0,701.3 L944.4,701.7 L943.8,701.9 L943.2,702.0 L942.7,702.1 L942.1,702.0 L941.6,701.9 L941.1,701.6 L940.7,701.3 L940.2,700.8 L939.8,700.3 L939.5,699.7 L939.2,699.0 L938.9,698.2 L938.7,697.4 L938.5,696.5 L938.4,695.5 L938.3,694.5 L938.3,693.4 L938.3,692.3 L938.4,691.2 L938.5,690.0 L938.7,688.8 L938.9,687.7 L939.2,686.5 L939.5,685.3 L939.9,684.2 L940.2,683.0 L940.7,682.0 L941.1,680.9 L941.6,679.9 L942.2,679.0 L942.7,678.1 L943.3,677.3 L943.8,676.6 L944.4,675.9 L945.0,675.4 L945.6,674.9 L946.2,674.5 L946.8,674.2 L947.4,674.0 L948.0,673.9 L948.6,673.9 L949.1,674.0 L949.6,674.2 L950.1,674.5 L950.5,674.9 L950.9,675.4" fill="none" stroke="#0c0c0c" stroke-width="3.58" stroke-linecap="round" stroke-linejoin="round"/>
<path d="M953.5,705.0 L952.9,705.4 L952.3,705.7 L951.8,705.9 L951.2,706.1 L950.7,706.1 L950.1,706.0 L949.6,705.9 L949.2,705.6 L948.7,705.3 L948.3,704.9 L947.9,704.3 L947.6,703.7 L947.3,703.1 L947.0,702.3 L946.8,701.5 L946.7,700.6 L946.6,699.7 L946.5,698.7 L946.5,697.7 L946.5,696.6 L946.6,695.5 L946.7,694.4 L946.9,693.2 L947.1,692.1 L947.4,691.0 L947.7,689.9 L948.1,688.7 L948.5,687.7 L948.9,686.6 L949.3,685.6 L949.8,684.7 L950.3,683.8 L950.9,682.9 L951.4,682.2 L952.0,681.5 L952.6,680.8 L953.2,680.3 L953.7,679.8 L954.3,679.5 L954.9,679.2 L955.5,679.0 L956.0,678.9 L956.6,678.9 L957.1,679.0 L957.6,679.2 L958.0,679.5 L958.5,679.9 L958.9,680.4" fill="none" stroke="#0c0c0c" stroke-width="6.16" stroke-linecap="round" stroke-linejoin="round"/>
<path d="M962.3,708.9 L961.8,709.3 L961.2,709.7 L960.7,709.9 L960.2,710.0 L959.6,710.1 L959.1,710.0 L958.6,709.9 L958.2,709.7 L957.7,709.4 L957.3,709.0 L957.0,708.5 L956.6,707.9 L956.3,707.3 L956.1,706.6 L955.9,705.8 L955.7,704.9 L955.6,704.0 L955.5,703.1 L955.4,702.1 L955.4,701.1 L955.5,700.0 L955.6,699.0 L955.7,697.9 L955.9,696.8 L956.1,695.7 L956.4,694.6 L956.7,693.6 L957.1,692.5 L957.4,691.5 L957.9,690.5 L958.3,689.6 L958.8,688.7 L959.3,687.9 L959.8,687.2 L960.3,686.5 L960.8,685.9 L961.4,685.3 L961.9,684.9 L962.5,684.5 L963.0,684.2 L963.5,684.0 L964.1,683.9 L964.6,683.9 L965.1,684.0 L965.6,684.2 L966.0,684.5 L966.4,684.8 L966.8,685.2" fill="none" stroke="#0c0c0c" stroke-width="3.58" stroke-linecap="round" stroke-linejoin="round"/>
<path d="M970.1,712.9 L969.6,713.3 L969.1,713.6 L968.6,713.8 L968.1,714.0 L967.6,714.0 L967.1,714.0 L966.7,713.9 L966.2,713.7 L965.8,713.4 L965.4,713.0 L965.0,712.6 L964.7,712.1 L964.4,711.5 L964.1,710.8 L963.9,710.1 L963.7,709.3 L963.5,708.4 L963.4,707.5 L963.4,706.6 L963.3,705.6 L963.4,704.6 L963.4,703.6 L963.5,702.5 L963.7,701.5 L963.9,700.4 L964.1,699.4 L964.4,698.4 L964.7,697.3 L965.0,696.4 L965.4,695.4 L965.8,694.5 L966.2,693.7 L966.6,692.9 L967.1,692.2 L967.6,691.5 L968.1,690.9 L968.6,690.4 L969.1,689.9 L969.6,689.6 L970.1,689.3 L970.6,689.1 L971.1,689.0 L971.6,689.0 L972.1,689.0 L972.5,689.2 L973.0,689.4 L973.4,689.7 L973.8,690.1" fill="none" stroke="#0c0c0c" stroke-width="4.93" stroke-linecap="round" stroke-linejoin="round"/>
<path d="M976.1,716.1 L975.6,716.4 L975.1,716.7 L974.6,716.9 L974.1,717.0 L973.6,717.1 L973.1,717.0 L972.7,716.9 L972.2,716.7 L971.9,716.4 L971.5,716.0 L971.1,715.5 L970.8,715.0 L970.6,714.4 L970.4,713.8 L970.2,713.0 L970.0,712.3 L969.9,711.4 L969.8,710.5 L969.8,709.6 L969.8,708.7 L969.9,707.7 L970.0,706.7 L970.2,705.7 L970.4,704.7 L970.6,703.7 L970.9,702.7 L971.2,701.7 L971.5,700.8 L971.9,699.8 L972.3,698.9 L972.7,698.1 L973.1,697.3 L973.6,696.5 L974.1,695.8 L974.6,695.2 L975.1,694.7 L975.6,694.2 L976.1,693.8 L976.6,693.4 L977.1,693.2 L977.7,693.0 L978.1,692.9 L978.6,692.9 L979.1,693.0 L979.5,693.2 L979.9,693.4 L980.3,693.8 L980.7,694.2" fill="none" stroke="#0c0c0c" stroke-width="3.14" stroke-linecap="round" stroke-linejoin="round"/>
<path d="M987.9,698.3 L988.7,698.7 L989.4,699.3 L990.0,700.0 L990.6,700.8 L991.0,701.8 L991.2,702.9 L991.4,704.1 L991.4,705.3 L991.3,706.6 L991.1,707.9 L990.8,709.3 L990.3,710.5 L989.7,711.8 L989.1,713.0 L988.3,714.1 L987.5,715.1 L986.6,715.9 L985.7,716.7 L984.7,717.3 L983.7,717.7 L982.8,718.0 L981.8,718.1 L980.9,718.0 L980.1,717.7 L979.3,717.3 L978.6,716.7 L978.0,716.0 L977.4,715.2 L977.0,714.2 L976.8,713.1 L976.6,711.9 L976.6,710.7 L976.7,709.4 L976.9,708.1 L977.2,706.7 L977.7,705.5 L978.3,704.2 L978.9,703.0 L979.7,701.9 L980.5,700.9 L981.4,700.1 L982.3,699.3 L983.3,698.7 L984.3,698.3 L985.2,698.0 L986.2,697.9 L987.1,698.0 L987.9,698.3 Z" fill="#fff" stroke="#0c0c0c" stroke-width="4.26" stroke-linecap="round" stroke-linejoin="round"/>
<path d="M987.9,702.5 L988.4,702.7 L988.9,703.1 L989.2,703.5 L989.6,704.1 L989.8,704.7 L990.0,705.4 L990.1,706.1 L990.1,706.8 L990.0,707.6 L989.9,708.5 L989.7,709.3 L989.4,710.1 L989.0,710.8 L988.6,711.6 L988.2,712.3 L987.7,712.9 L987.1,713.4 L986.5,713.9 L985.9,714.2 L985.3,714.5 L984.7,714.7 L984.2,714.7 L983.6,714.7 L983.1,714.5 L982.6,714.3 L982.1,713.9 L981.8,713.5 L981.4,712.9 L981.2,712.3 L981.0,711.6 L980.9,710.9 L980.9,710.2 L981.0,709.4 L981.1,708.5 L981.3,707.7 L981.6,706.9 L982.0,706.2 L982.4,705.4 L982.8,704.7 L983.3,704.1 L983.9,703.6 L984.5,703.1 L985.1,702.8 L985.7,702.5 L986.3,702.3 L986.8,702.3 L987.4,702.3 L987.9,702.5 Z" fill="#0c0c0c" stroke="#0c0c0c" stroke-width="1.12" stroke-linecap="round" stroke-linejoin="round"/>
<path d="M730.8,319.0 L740.5,325.8 L754.4,319.3 L765.0,326.9 L780.2,323.2 L791.0,332.2 L810.3,331.8 L821.0,343.0 L836.0,345.5 L849.0,357.0 L872.6,363.4 L823.2,482.6 L801.7,466.4 L791.0,459.0 L780.2,454.7 L771.6,443.9 L758.7,433.2 L754.4,420.3 L741.6,413.9 L735.0,403.0 L720.0,383.8 L717.9,364.4 L714.9,362.0 L714.3,361.6 L713.8,361.1 L713.3,360.6 L712.9,360.0 L712.5,359.3 L712.1,358.5 L711.8,357.6 L711.6,356.7 L711.4,355.7 L711.2,354.7 L711.1,353.5 L711.1,352.4 L711.1,351.1 L711.2,349.9 L711.3,348.6 L711.4,347.2 L711.6,345.8 L711.9,344.4 L712.2,343.0 L712.6,341.6 L713.0,340.2 L713.4,338.8 L713.9,337.4 L714.4,336.0 L715.0,334.6 L715.6,333.3 L716.2,332.0 L716.9,330.7 L717.6,329.4 L718.3,328.3 L719.1,327.1 L719.8,326.1 L720.6,325.0 L721.4,324.1 L722.2,323.2 L723.0,322.4 L723.8,321.7 L724.6,321.1 L725.4,320.5 L726.1,320.1 L726.9,319.7 L727.7,319.4 L728.4,319.2 L729.1,319.1 L729.8,319.1 L730.5,319.2 Z" fill="#fff" stroke="#0c0c0c" stroke-width="0.00" stroke-linejoin="round"/>
<path d="M748.6,408.0a1.0,1.0 0 1,0 1.9,0a1.0,1.0 0 1,0 -1.9,0M807.9,421.4a0.7,0.7 0 1,0 1.5,0a0.7,0.7 0 1,0 -1.5,0M751.6,357.3a1.4,1.4 0 1,0 2.8,0a1.4,1.4 0 1,0 -2.8,0M786.0,455.8a1.0,1.0 0 1,0 2.1,0a1.0,1.0 0 1,0 -2.1,0M813.2,343.6a1.1,1.1 0 1,0 2.3,0a1.1,1.1 0 1,0 -2.3,0M850.1,404.6a1.2,1.2 0 1,0 2.4,0a1.2,1.2 0 1,0 -2.4,0M832.6,415.7a0.9,0.9 0 1,0 1.8,0a0.9,0.9 0 1,0 -1.8,0M786.1,436.6a1.3,1.3 0 1,0 2.6,0a1.3,1.3 0 1,0 -2.6,0M825.5,469.7a1.0,1.0 0 1,0 2.0,0a1.0,1.0 0 1,0 -2.0,0M839.1,391.7a1.4,1.4 0 1,0 2.7,0a1.4,1.4 0 1,0 -2.7,0M731.7,354.5a1.4,1.4 0 1,0 2.8,0a1.4,1.4 0 1,0 -2.8,0M780.6,421.5a0.9,0.9 0 1,0 1.8,0a0.9,0.9 0 1,0 -1.8,0M792.1,382.1a0.9,0.9 0 1,0 1.9,0a0.9,0.9 0 1,0 -1.9,0M804.3,414.6a1.3,1.3 0 1,0 2.7,0a1.3,1.3 0 1,0 -2.7,0M819.9,471.0a1.3,1.3 0 1,0 2.6,0a1.3,1.3 0 1,0 -2.6,0M802.2,435.8a0.8,0.8 0 1,0 1.7,0a0.8,0.8 0 1,0 -1.7,0M844.5,412.8a0.9,0.9 0 1,0 1.8,0a0.9,0.9 0 1,0 -1.8,0M839.6,386.2a0.8,0.8 0 1,0 1.6,0a0.8,0.8 0 1,0 -1.6,0M825.8,373.1a1.3,1.3 0 1,0 2.6,0a1.3,1.3 0 1,0 -2.6,0M715.2,351.3a1.0,1.0 0 1,0 2.0,0a1.0,1.0 0 1,0 -2.0,0M809.0,344.6a0.7,0.7 0 1,0 1.5,0a0.7,0.7 0 1,0 -1.5,0M849.9,370.3a1.4,1.4 0 1,0 2.7,0a1.4,1.4 0 1,0 -2.7,0M854.9,380.8a1.0,1.0 0 1,0 2.0,0a1.0,1.0 0 1,0 -2.0,0M794.0,424.3a1.1,1.1 0 1,0 2.2,0a1.1,1.1 0 1,0 -2.2,0M800.1,420.5a1.4,1.4 0 1,0 2.7,0a1.4,1.4 0 1,0 -2.7,0M791.8,389.5a1.2,1.2 0 1,0 2.4,0a1.2,1.2 0 1,0 -2.4,0M748.1,368.3a1.4,1.4 0 1,0 2.8,0a1.4,1.4 0 1,0 -2.8,0M794.6,408.7a0.7,0.7 0 1,0 1.4,0a0.7,0.7 0 1,0 -1.4,0M777.4,413.9a0.7,0.7 0 1,0 1.4,0a0.7,0.7 0 1,0 -1.4,0M809.8,422.4a0.7,0.7 0 1,0 1.5,0a0.7,0.7 0 1,0 -1.5,0M811.2,395.3a1.2,1.2 0 1,0 2.4,0a1.2,1.2 0 1,0 -2.4,0M766.8,434.7a1.2,1.2 0 1,0 2.4,0a1.2,1.2 0 1,0 -2.4,0M819.4,476.6a0.9,0.9 0 1,0 1.8,0a0.9,0.9 0 1,0 -1.8,0M783.9,416.0a0.9,0.9 0 1,0 1.8,0a0.9,0.9 0 1,0 -1.8,0M768.9,370.2a1.0,1.0 0 1,0 1.9,0a1.0,1.0 0 1,0 -1.9,0M806.3,368.1a1.0,1.0 0 1,0 1.9,0a1.0,1.0 0 1,0 -1.9,0M802.1,439.3a0.9,0.9 0 1,0 1.8,0a0.9,0.9 0 1,0 -1.8,0M748.6,349.7a1.0,1.0 0 1,0 2.0,0a1.0,1.0 0 1,0 -2.0,0M761.8,373.6a1.3,1.3 0 1,0 2.6,0a1.3,1.3 0 1,0 -2.6,0M737.3,374.1a1.2,1.2 0 1,0 2.3,0a1.2,1.2 0 1,0 -2.3,0M853.2,392.8a0.9,0.9 0 1,0 1.7,0a0.9,0.9 0 1,0 -1.7,0M813.8,450.9a0.9,0.9 0 1,0 1.9,0a0.9,0.9 0 1,0 -1.9,0M730.8,366.8a1.3,1.3 0 1,0 2.5,0a1.3,1.3 0 1,0 -2.5,0M753.9,375.7a1.0,1.0 0 1,0 2.0,0a1.0,1.0 0 1,0 -2.0,0M777.5,386.0a1.3,1.3 0 1,0 2.7,0a1.3,1.3 0 1,0 -2.7,0M794.0,366.3a0.9,0.9 0 1,0 1.9,0a0.9,0.9 0 1,0 -1.9,0M746.7,330.1a1.1,1.1 0 1,0 2.2,0a1.1,1.1 0 1,0 -2.2,0M821.8,470.1a1.3,1.3 0 1,0 2.7,0a1.3,1.3 0 1,0 -2.7,0M737.7,368.1a1.2,1.2 0 1,0 2.3,0a1.2,1.2 0 1,0 -2.3,0M794.5,386.7a1.4,1.4 0 1,0 2.7,0a1.4,1.4 0 1,0 -2.7,0M809.1,374.8a0.9,0.9 0 1,0 1.8,0a0.9,0.9 0 1,0 -1.8,0M849.0,397.1a1.2,1.2 0 1,0 2.5,0a1.2,1.2 0 1,0 -2.5,0M766.8,351.3a1.1,1.1 0 1,0 2.1,0a1.1,1.1 0 1,0 -2.1,0M753.9,362.9a1.1,1.1 0 1,0 2.1,0a1.1,1.1 0 1,0 -2.1,0M778.2,396.4a1.2,1.2 0 1,0 2.5,0a1.2,1.2 0 1,0 -2.5,0M730.8,339.4a0.7,0.7 0 1,0 1.5,0a0.7,0.7 0 1,0 -1.5,0M761.2,370.5a0.9,0.9 0 1,0 1.9,0a0.9,0.9 0 1,0 -1.9,0M814.6,415.0a1.0,1.0 0 1,0 1.9,0a1.0,1.0 0 1,0 -1.9,0M741.2,372.8a0.8,0.8 0 1,0 1.6,0a0.8,0.8 0 1,0 -1.6,0M799.8,436.1a1.0,1.0 0 1,0 1.9,0a1.0,1.0 0 1,0 -1.9,0M723.0,348.2a1.0,1.0 0 1,0 1.9,0a1.0,1.0 0 1,0 -1.9,0M807.7,447.0a1.0,1.0 0 1,0 1.9,0a1.0,1.0 0 1,0 -1.9,0M839.5,420.9a1.0,1.0 0 1,0 2.0,0a1.0,1.0 0 1,0 -2.0,0M770.0,400.2a1.2,1.2 0 1,0 2.4,0a1.2,1.2 0 1,0 -2.4,0M778.0,432.6a1.0,1.0 0 1,0 2.0,0a1.0,1.0 0 1,0 -2.0,0M749.5,406.7a1.2,1.2 0 1,0 2.4,0a1.2,1.2 0 1,0 -2.4,0M861.0,380.2a1.3,1.3 0 1,0 2.7,0a1.3,1.3 0 1,0 -2.7,0M837.8,361.9a1.0,1.0 0 1,0 2.0,0a1.0,1.0 0 1,0 -2.0,0M816.8,464.2a1.3,1.3 0 1,0 2.5,0a1.3,1.3 0 1,0 -2.5,0M817.8,439.0a1.1,1.1 0 1,0 2.2,0a1.1,1.1 0 1,0 -2.2,0M724.6,335.2a1.3,1.3 0 1,0 2.6,0a1.3,1.3 0 1,0 -2.6,0M803.9,449.7a0.7,0.7 0 1,0 1.5,0a0.7,0.7 0 1,0 -1.5,0M833.8,402.7a1.2,1.2 0 1,0 2.4,0a1.2,1.2 0 1,0 -2.4,0M762.2,411.3a1.3,1.3 0 1,0 2.6,0a1.3,1.3 0 1,0 -2.6,0M749.3,348.4a0.9,0.9 0 1,0 1.7,0a0.9,0.9 0 1,0 -1.7,0M809.6,442.3a1.0,1.0 0 1,0 2.0,0a1.0,1.0 0 1,0 -2.0,0M769.5,383.9a0.9,0.9 0 1,0 1.9,0a0.9,0.9 0 1,0 -1.9,0M777.6,332.6a1.1,1.1 0 1,0 2.1,0a1.1,1.1 0 1,0 -2.1,0M830.6,345.3a1.2,1.2 0 1,0 2.4,0a1.2,1.2 0 1,0 -2.4,0M832.1,429.2a1.1,1.1 0 1,0 2.1,0a1.1,1.1 0 1,0 -2.1,0M787.9,424.2a1.3,1.3 0 1,0 2.7,0a1.3,1.3 0 1,0 -2.7,0M734.0,334.7a1.2,1.2 0 1,0 2.4,0a1.2,1.2 0 1,0 -2.4,0M781.8,436.6a0.8,0.8 0 1,0 1.7,0a0.8,0.8 0 1,0 -1.7,0M753.2,351.6a1.1,1.1 0 1,0 2.2,0a1.1,1.1 0 1,0 -2.2,0M760.8,357.0a1.2,1.2 0 1,0 2.4,0a1.2,1.2 0 1,0 -2.4,0" fill="#0c0c0c"/>
<path d="M719.1,362.9 L718.2,362.9 L717.3,362.9 L716.5,362.7 L715.7,362.4 L715.0,362.0 L714.3,361.5 L713.6,360.8 L713.1,360.0 L712.6,359.1 L712.1,358.1 L711.8,357.0 L711.5,355.9 L711.2,354.6 L711.1,353.2 L711.0,351.8 L711.0,350.3 L711.1,348.8 L711.3,347.2 L711.5,345.6 L711.8,343.9 L712.1,342.2 L712.6,340.6 L713.1,338.9 L713.7,337.2 L714.3,335.6 L715.0,334.0 L715.7,332.4 L716.5,330.9 L717.3,329.5 L718.2,328.1 L719.1,326.8 L720.0,325.5 L721.0,324.4 L722.0,323.3 L723.0,322.4 L723.9,321.6 L724.9,320.8 L725.9,320.2 L726.9,319.8 L727.9,319.4 L728.8,319.2 L729.7,319.1 L730.6,319.1 L731.4,319.2 L732.2,319.5 L732.9,319.9 L733.6,320.5 L734.3,321.1" fill="none" stroke="#0c0c0c" stroke-width="5.82" stroke-linecap="round" stroke-linejoin="round"/>
<path d="M723.9,362.5 L723.3,362.3 L722.8,362.1 L722.3,361.8 L721.8,361.4 L721.3,360.9 L721.0,360.4 L720.6,359.7 L720.3,359.0 L720.0,358.2 L719.8,357.3 L719.7,356.4 L719.6,355.4 L719.5,354.3 L719.5,353.2 L719.5,352.1 L719.6,350.9 L719.7,349.7 L719.9,348.4 L720.2,347.1 L720.4,345.8 L720.8,344.5 L721.1,343.2 L721.6,341.9 L722.0,340.6 L722.5,339.3 L723.0,338.0 L723.6,336.8 L724.2,335.6 L724.8,334.4 L725.4,333.3 L726.1,332.2 L726.8,331.2 L727.5,330.2 L728.2,329.3 L728.9,328.4 L729.6,327.7 L730.4,327.0 L731.1,326.4 L731.8,325.8 L732.5,325.4 L733.2,325.0 L733.9,324.8 L734.6,324.6 L735.2,324.5 L735.8,324.5 L736.4,324.6 L737.0,324.8 L737.5,325.0" fill="none" stroke="#0c0c0c" stroke-width="3.58" stroke-linecap="round" stroke-linejoin="round"/>
<path d="M728.0,363.6 L727.6,363.3 L727.3,363.0 L727.0,362.6 L726.7,362.1 L726.5,361.6 L726.3,361.1 L726.1,360.4 L726.0,359.8 L725.9,359.1 L725.8,358.3 L725.8,357.5 L725.8,356.6 L725.8,355.7 L725.8,354.8 L725.9,353.8 L726.1,352.9 L726.2,351.8 L726.4,350.8 L726.6,349.8 L726.9,348.7 L727.1,347.6 L727.5,346.5 L727.8,345.5 L728.1,344.4 L728.5,343.3 L728.9,342.3 L729.4,341.2 L729.8,340.2 L730.3,339.2 L730.8,338.2 L731.3,337.2 L731.8,336.3 L732.3,335.4 L732.8,334.5 L733.4,333.7 L733.9,333.0 L734.5,332.2 L735.0,331.6 L735.6,330.9 L736.2,330.4 L736.7,329.9 L737.2,329.4 L737.8,329.0 L738.3,328.7 L738.8,328.4 L739.3,328.2 L739.8,328.1 L740.3,328.0" fill="none" stroke="#0c0c0c" stroke-width="2.69" stroke-linecap="round" stroke-linejoin="round"/>
<path d="M726.6,386.6 L725.4,386.4 L724.4,386.0 L723.4,385.4 L722.4,384.7 L721.6,383.8 L720.9,382.8 L720.2,381.6 L719.6,380.2 L719.2,378.7 L718.8,377.1 L718.6,375.3 L718.5,373.5 L718.4,371.5 L718.5,369.5 L718.7,367.3 L719.0,365.1 L719.3,362.8 L719.8,360.5 L720.4,358.1 L721.1,355.7 L721.9,353.3 L722.7,350.9 L723.7,348.4 L724.7,346.0 L725.8,343.7 L727.0,341.4 L728.2,339.1 L729.5,336.9 L730.9,334.8 L732.3,332.8 L733.7,330.9 L735.1,329.1 L736.6,327.4 L738.1,325.9 L739.6,324.4 L741.1,323.2 L742.6,322.0 L744.0,321.0 L745.5,320.2 L746.9,319.6 L748.3,319.1 L749.6,318.8 L750.9,318.7 L752.1,318.7 L753.3,318.9 L754.4,319.3 L755.4,319.8 L756.3,320.5" fill="none" stroke="#0c0c0c" stroke-width="4.03" stroke-linecap="round" stroke-linejoin="round"/>
<path d="M733.4,392.0 L732.5,391.5 L731.6,390.8 L730.8,390.0 L730.0,389.1 L729.4,388.0 L728.8,386.8 L728.4,385.5 L728.0,384.0 L727.7,382.5 L727.5,380.8 L727.4,379.0 L727.3,377.2 L727.4,375.3 L727.6,373.2 L727.8,371.2 L728.2,369.0 L728.6,366.9 L729.1,364.6 L729.7,362.4 L730.4,360.1 L731.2,357.9 L732.0,355.6 L732.9,353.3 L733.9,351.1 L734.9,348.9 L736.0,346.7 L737.2,344.6 L738.4,342.5 L739.7,340.5 L741.0,338.5 L742.3,336.7 L743.7,334.9 L745.0,333.3 L746.4,331.7 L747.8,330.3 L749.3,329.0 L750.7,327.8 L752.1,326.7 L753.5,325.8 L754.8,325.0 L756.2,324.3 L757.5,323.8 L758.8,323.4 L760.0,323.2 L761.2,323.1 L762.3,323.2 L763.4,323.4 L764.4,323.8" fill="none" stroke="#0c0c0c" stroke-width="3.14" stroke-linecap="round" stroke-linejoin="round"/>
<path d="M718.7,376.7 L718.2,376.0 L717.8,375.3 L717.4,374.5 L717.1,373.7 L716.8,372.7 L716.6,371.7 L716.5,370.7 L716.4,369.5 L716.3,368.3 L716.3,367.1 L716.4,365.8 L716.6,364.4 L716.8,363.0 L717.0,361.6 L717.3,360.1 L717.7,358.6 L718.1,357.1 L718.6,355.5 L719.1,354.0 L719.6,352.4 L720.2,350.8 L720.9,349.3 L721.6,347.7 L722.3,346.2 L723.1,344.7 L723.9,343.2 L724.8,341.7 L725.6,340.3 L726.5,338.9 L727.4,337.5 L728.4,336.2 L729.3,334.9 L730.3,333.7 L731.3,332.6 L732.3,331.5 L733.3,330.5 L734.3,329.6 L735.3,328.7 L736.2,328.0 L737.2,327.3 L738.2,326.6 L739.1,326.1 L740.1,325.7 L741.0,325.3 L741.8,325.0 L742.7,324.8 L743.5,324.8 L744.3,324.8" fill="none" stroke="#0c0c0c" stroke-width="2.46" stroke-linecap="round" stroke-linejoin="round"/>
<path d="M748.8,414.5 L747.3,414.3 L745.8,413.9 L744.5,413.2 L743.2,412.3 L742.0,411.2 L740.9,409.9 L740.0,408.4 L739.1,406.6 L738.4,404.7 L737.8,402.6 L737.4,400.3 L737.0,397.8 L736.8,395.2 L736.7,392.5 L736.8,389.6 L737.0,386.7 L737.3,383.6 L737.8,380.5 L738.4,377.3 L739.1,374.1 L739.9,370.8 L740.9,367.5 L741.9,364.3 L743.1,361.0 L744.4,357.8 L745.7,354.6 L747.2,351.6 L748.7,348.6 L750.3,345.7 L752.0,342.9 L753.7,340.2 L755.5,337.7 L757.3,335.4 L759.2,333.2 L761.0,331.2 L762.9,329.4 L764.8,327.8 L766.6,326.4 L768.5,325.2 L770.3,324.2 L772.1,323.4 L773.8,322.9 L775.5,322.6 L777.1,322.6 L778.7,322.8 L780.1,323.2 L781.5,323.8 L782.8,324.7" fill="none" stroke="#0c0c0c" stroke-width="4.03" stroke-linecap="round" stroke-linejoin="round"/>
<path d="M754.9,419.9 L753.6,419.3 L752.4,418.5 L751.3,417.5 L750.3,416.3 L749.3,415.0 L748.5,413.4 L747.7,411.7 L747.1,409.8 L746.6,407.8 L746.2,405.6 L745.9,403.3 L745.7,400.9 L745.7,398.4 L745.7,395.7 L745.9,393.0 L746.2,390.1 L746.6,387.2 L747.1,384.3 L747.7,381.3 L748.4,378.2 L749.2,375.2 L750.1,372.1 L751.2,369.1 L752.3,366.0 L753.5,363.0 L754.7,360.1 L756.1,357.2 L757.5,354.4 L759.0,351.6 L760.6,349.0 L762.2,346.4 L763.8,344.0 L765.5,341.7 L767.2,339.6 L768.9,337.6 L770.7,335.7 L772.4,334.0 L774.2,332.5 L776.0,331.2 L777.7,330.0 L779.4,329.0 L781.1,328.2 L782.7,327.7 L784.3,327.3 L785.9,327.1 L787.4,327.1 L788.8,327.3 L790.2,327.7" fill="none" stroke="#0c0c0c" stroke-width="3.14" stroke-linecap="round" stroke-linejoin="round"/>
<path d="M739.3,404.2 L738.6,403.4 L737.9,402.5 L737.3,401.4 L736.8,400.2 L736.3,399.0 L735.9,397.6 L735.5,396.1 L735.3,394.5 L735.1,392.8 L735.0,391.1 L734.9,389.2 L735.0,387.3 L735.1,385.3 L735.3,383.3 L735.5,381.2 L735.9,379.1 L736.3,376.9 L736.7,374.7 L737.3,372.5 L737.9,370.2 L738.6,367.9 L739.3,365.7 L740.1,363.4 L740.9,361.2 L741.9,359.0 L742.8,356.8 L743.8,354.6 L744.9,352.5 L746.0,350.5 L747.1,348.5 L748.3,346.5 L749.5,344.7 L750.7,342.9 L751.9,341.2 L753.2,339.5 L754.4,338.0 L755.7,336.6 L757.0,335.3 L758.3,334.1 L759.6,333.0 L760.9,332.0 L762.1,331.2 L763.4,330.4 L764.6,329.8 L765.8,329.3 L766.9,329.0 L768.1,328.8 L769.2,328.7" fill="none" stroke="#0c0c0c" stroke-width="2.46" stroke-linecap="round" stroke-linejoin="round"/>
<path d="M766.5,438.4 L764.6,438.1 L762.9,437.5 L761.3,436.6 L759.9,435.4 L758.6,434.0 L757.4,432.4 L756.3,430.5 L755.5,428.3 L754.7,426.0 L754.2,423.4 L753.8,420.7 L753.5,417.7 L753.5,414.6 L753.6,411.3 L753.9,407.9 L754.3,404.4 L754.9,400.8 L755.7,397.1 L756.6,393.3 L757.7,389.5 L758.9,385.7 L760.3,381.9 L761.8,378.0 L763.4,374.2 L765.1,370.5 L767.0,366.8 L768.9,363.3 L771.0,359.8 L773.1,356.5 L775.3,353.3 L777.5,350.2 L779.8,347.4 L782.2,344.7 L784.5,342.2 L786.9,340.0 L789.2,337.9 L791.6,336.1 L793.9,334.6 L796.2,333.3 L798.4,332.3 L800.6,331.5 L802.7,331.0 L804.7,330.8 L806.7,330.8 L808.5,331.2 L810.2,331.8 L811.8,332.6 L813.3,333.8" fill="none" stroke="#0c0c0c" stroke-width="4.03" stroke-linecap="round" stroke-linejoin="round"/>
<path d="M772.0,443.5 L770.5,442.7 L769.1,441.7 L767.9,440.4 L766.7,438.9 L765.7,437.2 L764.8,435.4 L764.1,433.3 L763.4,431.0 L763.0,428.6 L762.6,426.0 L762.4,423.2 L762.4,420.3 L762.5,417.3 L762.7,414.1 L763.1,410.8 L763.7,407.5 L764.3,404.1 L765.1,400.6 L766.1,397.1 L767.1,393.5 L768.3,389.9 L769.6,386.4 L771.0,382.8 L772.6,379.3 L774.2,375.8 L775.9,372.4 L777.7,369.0 L779.6,365.8 L781.6,362.6 L783.6,359.6 L785.7,356.7 L787.8,353.9 L790.0,351.3 L792.1,348.8 L794.3,346.6 L796.6,344.5 L798.8,342.6 L801.0,340.9 L803.1,339.4 L805.3,338.2 L807.4,337.1 L809.4,336.3 L811.4,335.7 L813.4,335.4 L815.2,335.3 L817.0,335.4 L818.7,335.7 L820.3,336.3" fill="none" stroke="#0c0c0c" stroke-width="3.14" stroke-linecap="round" stroke-linejoin="round"/>
<path d="M756.0,427.2 L755.1,426.2 L754.4,425.0 L753.7,423.6 L753.1,422.1 L752.7,420.5 L752.3,418.8 L752.0,417.0 L751.8,415.0 L751.7,412.9 L751.7,410.8 L751.8,408.5 L752.0,406.2 L752.3,403.7 L752.7,401.2 L753.1,398.7 L753.7,396.1 L754.4,393.5 L755.1,390.8 L756.0,388.1 L756.9,385.4 L757.9,382.7 L759.0,379.9 L760.2,377.2 L761.4,374.6 L762.7,371.9 L764.0,369.3 L765.4,366.7 L766.9,364.2 L768.4,361.8 L770.0,359.4 L771.5,357.1 L773.2,354.9 L774.8,352.9 L776.5,350.9 L778.1,349.0 L779.8,347.2 L781.5,345.6 L783.2,344.1 L784.9,342.7 L786.5,341.4 L788.2,340.3 L789.8,339.4 L791.4,338.6 L792.9,337.9 L794.4,337.5 L795.9,337.1 L797.3,336.9 L798.6,336.9" fill="none" stroke="#0c0c0c" stroke-width="2.46" stroke-linecap="round" stroke-linejoin="round"/>
<path d="M786.1,457.9 L784.1,457.5 L782.3,456.8 L780.7,455.8 L779.1,454.5 L777.8,453.0 L776.5,451.2 L775.5,449.1 L774.6,446.8 L773.9,444.3 L773.4,441.5 L773.1,438.6 L772.9,435.4 L772.9,432.1 L773.2,428.6 L773.5,425.0 L774.1,421.3 L774.9,417.4 L775.8,413.5 L776.9,409.5 L778.2,405.5 L779.6,401.4 L781.2,397.4 L782.9,393.4 L784.7,389.4 L786.7,385.4 L788.8,381.6 L791.0,377.8 L793.2,374.2 L795.6,370.7 L798.0,367.3 L800.5,364.2 L803.1,361.2 L805.6,358.4 L808.2,355.8 L810.8,353.5 L813.4,351.4 L815.9,349.6 L818.4,348.0 L820.9,346.7 L823.3,345.7 L825.7,344.9 L827.9,344.4 L830.1,344.3 L832.2,344.4 L834.1,344.8 L835.9,345.5 L837.6,346.4 L839.1,347.7" fill="none" stroke="#0c0c0c" stroke-width="4.03" stroke-linecap="round" stroke-linejoin="round"/>
<path d="M791.4,462.8 L789.8,461.9 L788.4,460.7 L787.1,459.4 L785.9,457.8 L784.9,455.9 L784.0,453.9 L783.2,451.7 L782.6,449.2 L782.2,446.6 L781.9,443.8 L781.8,440.9 L781.8,437.8 L782.0,434.6 L782.4,431.2 L782.9,427.7 L783.6,424.2 L784.4,420.6 L785.3,416.9 L786.4,413.2 L787.7,409.4 L789.0,405.6 L790.5,401.9 L792.2,398.1 L793.9,394.4 L795.7,390.7 L797.7,387.1 L799.7,383.6 L801.8,380.2 L804.0,376.9 L806.2,373.7 L808.5,370.7 L810.9,367.8 L813.2,365.1 L815.6,362.5 L818.0,360.2 L820.5,358.0 L822.9,356.1 L825.3,354.3 L827.6,352.8 L829.9,351.6 L832.2,350.5 L834.4,349.7 L836.6,349.1 L838.6,348.8 L840.6,348.7 L842.5,348.9 L844.3,349.3 L846.0,350.0" fill="none" stroke="#0c0c0c" stroke-width="3.14" stroke-linecap="round" stroke-linejoin="round"/>
<path d="M775.2,446.3 L774.4,445.1 L773.6,443.8 L772.9,442.3 L772.3,440.7 L771.9,439.0 L771.5,437.1 L771.3,435.1 L771.1,433.0 L771.1,430.7 L771.1,428.4 L771.3,426.0 L771.6,423.4 L772.0,420.8 L772.5,418.2 L773.1,415.5 L773.8,412.7 L774.6,409.9 L775.5,407.0 L776.5,404.1 L777.6,401.2 L778.8,398.3 L780.0,395.5 L781.4,392.6 L782.8,389.7 L784.2,386.9 L785.8,384.2 L787.4,381.4 L789.0,378.8 L790.7,376.2 L792.5,373.7 L794.3,371.3 L796.1,369.0 L797.9,366.8 L799.8,364.7 L801.6,362.7 L803.5,360.9 L805.4,359.2 L807.2,357.6 L809.1,356.2 L810.9,354.9 L812.7,353.8 L814.5,352.8 L816.2,352.0 L817.9,351.4 L819.5,350.9 L821.1,350.6 L822.6,350.4 L824.1,350.4" fill="none" stroke="#0c0c0c" stroke-width="2.46" stroke-linecap="round" stroke-linejoin="round"/>
<path d="M730.8,319.0 C732.4,320.1 736.6,325.8 740.5,325.8 C744.4,325.9 750.3,319.1 754.4,319.3 C758.5,319.5 760.7,326.2 765.0,326.9 C769.3,327.5 775.9,322.3 780.2,323.2 C784.5,324.1 786.0,330.8 791.0,332.2 C796.0,333.6 805.3,330.0 810.3,331.8 C815.3,333.6 816.7,340.7 821.0,343.0 C825.3,345.3 831.3,343.2 836.0,345.5 C840.7,347.8 842.9,354.0 849.0,357.0 C855.1,360.0 868.7,362.3 872.6,363.4" fill="none" stroke="#0c0c0c" stroke-width="3.81" stroke-linecap="round" stroke-linejoin="round"/>
<path d="M717.9,364.4 C718.2,367.6 717.1,377.4 720.0,383.8 C722.9,390.2 731.4,398.0 735.0,403.0 C738.6,408.0 738.4,411.0 741.6,413.9 C744.8,416.8 751.5,417.1 754.4,420.3 C757.2,423.5 755.8,429.3 758.7,433.2 C761.6,437.1 768.0,440.3 771.6,443.9 C775.2,447.5 777.0,452.2 780.2,454.7 C783.4,457.2 787.4,457.1 791.0,459.0 C794.6,460.9 796.3,462.5 801.7,466.4 C807.1,470.3 819.6,479.9 823.2,482.6" fill="none" stroke="#0c0c0c" stroke-width="3.81" stroke-linecap="round" stroke-linejoin="round"/>
<path d="M876.8,365.4 L880.3,367.6 L883.2,370.8 L885.6,374.8 L887.3,379.7 L888.4,385.4 L888.9,391.7 L888.7,398.6 L887.8,405.9 L886.3,413.5 L884.2,421.3 L881.4,429.2 L878.2,436.9 L874.4,444.4 L870.3,451.6 L865.8,458.3 L861.0,464.5 L856.0,469.9 L851.0,474.5 L845.9,478.3 L840.9,481.2 L836.0,483.0 L831.4,483.9 L827.1,483.7 L823.2,482.6 L819.7,480.4 L816.8,477.2 L814.4,473.2 L812.7,468.3 L811.6,462.6 L811.1,456.3 L811.3,449.4 L812.2,442.1 L813.7,434.5 L815.8,426.7 L818.6,418.8 L821.8,411.1 L825.6,403.6 L829.7,396.4 L834.2,389.7 L839.0,383.5 L844.0,378.1 L849.0,373.5 L854.1,369.7 L859.1,366.8 L864.0,365.0 L868.6,364.1 L872.9,364.3 L876.8,365.4 Z" fill="#fff" stroke="#0c0c0c" stroke-width="5.15" stroke-linecap="round" stroke-linejoin="round"/>
<path d="M822.1,478.7 L820.2,478.1 L818.4,477.2 L816.7,476.0 L815.2,474.6 L813.8,472.9 L812.6,471.0 L811.5,468.8 L810.6,466.5 L809.9,463.9 L809.3,461.1 L808.9,458.1 L808.7,454.9 L808.6,451.6 L808.7,448.1 L809.0,444.5 L809.5,440.8 L810.2,437.0 L811.0,433.2 L812.0,429.2 L813.1,425.3 L814.4,421.3 L815.8,417.3 L817.4,413.3 L819.1,409.4 L821.0,405.6 L822.9,401.8 L825.0,398.1 L827.2,394.5 L829.4,391.1 L831.8,387.7 L834.2,384.6 L836.6,381.6 L839.1,378.9 L841.6,376.3 L844.2,373.9 L846.7,371.8 L849.3,369.9 L851.8,368.2 L854.3,366.8 L856.7,365.7 L859.1,364.8 L861.5,364.2 L863.7,363.9 L865.9,363.9 L868.0,364.1 L869.9,364.6 L871.8,365.4 L873.5,366.4" fill="none" stroke="#0c0c0c" stroke-width="3.36" stroke-linecap="round" stroke-linejoin="round"/>
<path d="M876.7,373.7 L879.7,375.6 L882.2,378.3 L884.1,381.8 L885.6,386.1 L886.5,391.1 L886.8,396.7 L886.6,402.7 L885.7,409.1 L884.3,415.9 L882.4,422.7 L880.0,429.7 L877.1,436.5 L873.8,443.2 L870.1,449.6 L866.2,455.5 L862.0,461.0 L857.7,465.8 L853.3,469.9 L848.8,473.3 L844.5,475.9 L840.3,477.6 L836.3,478.4 L832.6,478.3 L829.3,477.3 L826.3,475.4 L823.8,472.7 L821.9,469.2 L820.4,464.9 L819.5,459.9 L819.2,454.3 L819.4,448.3 L820.3,441.9 L821.7,435.1 L823.6,428.3 L826.0,421.3 L828.9,414.5 L832.2,407.8 L835.9,401.4 L839.8,395.5 L844.0,390.0 L848.3,385.2 L852.7,381.1 L857.2,377.7 L861.5,375.1 L865.7,373.4 L869.7,372.6 L873.4,372.7 L876.7,373.7 Z" fill="none" stroke="#0c0c0c" stroke-width="3.58" stroke-linecap="round" stroke-linejoin="round"/>
<path d="M876.2,380.1 L878.7,381.7 L880.8,384.1 L882.4,387.2 L883.6,391.0 L884.3,395.4 L884.5,400.3 L884.2,405.7 L883.3,411.4 L882.0,417.4 L880.3,423.5 L878.1,429.7 L875.5,435.9 L872.5,441.8 L869.3,447.5 L865.8,452.9 L862.1,457.8 L858.3,462.2 L854.5,465.9 L850.6,469.0 L846.8,471.3 L843.2,472.9 L839.8,473.7 L836.6,473.7 L833.8,472.9 L831.3,471.3 L829.2,468.9 L827.6,465.8 L826.4,462.0 L825.7,457.6 L825.5,452.7 L825.8,447.3 L826.7,441.6 L828.0,435.6 L829.7,429.5 L831.9,423.3 L834.5,417.1 L837.5,411.2 L840.7,405.5 L844.2,400.1 L847.9,395.2 L851.7,390.8 L855.5,387.1 L859.4,384.0 L863.2,381.7 L866.8,380.1 L870.2,379.3 L873.4,379.3 L876.2,380.1 Z" fill="none" stroke="#0c0c0c" stroke-width="3.14" stroke-linecap="round" stroke-linejoin="round"/>
<path d="M860.5,391.7 L862.8,390.0 L865.1,388.6 L867.2,387.5 L869.3,386.8 L871.3,386.4 L873.2,386.4 L874.9,386.8 L876.4,387.5 L877.8,388.5 L879.1,389.9 L880.1,391.6 L880.9,393.7 L881.5,396.0 L882.0,398.6 L882.2,401.4 L882.1,404.5 L881.9,407.8 L881.5,411.3 L880.8,414.9 L879.9,418.6 L878.9,422.4 L877.6,426.2 L876.2,430.1 L874.6,433.9 L872.9,437.7 L871.0,441.4 L869.0,445.0 L866.9,448.4 L864.7,451.7 L862.5,454.8 L860.2,457.6 L857.8,460.2 L855.5,462.5 L853.2,464.5 L850.9,466.2 L848.7,467.6 L846.5,468.6 L844.4,469.3 L842.5,469.6 L840.6,469.6 L838.9,469.2 L837.4,468.4 L836.0,467.3 L834.8,465.9 L833.8,464.2 L833.0,462.1 L832.4,459.7 L832.0,457.1" fill="none" stroke="#0c0c0c" stroke-width="2.69" stroke-linecap="round" stroke-linejoin="round"/>
<path d="M879.8,395.3 L880.4,396.2 L881.0,397.2 L881.5,398.4 L881.9,399.7 L882.2,401.1 L882.4,402.7 L882.5,404.4 L882.5,406.2 L882.5,408.0 L882.3,410.0 L882.1,412.1 L881.7,414.3 L881.3,416.5 L880.8,418.7 L880.2,421.1 L879.5,423.4 L878.8,425.8 L877.9,428.2 L877.0,430.6 L876.0,433.1 L875.0,435.4 L873.9,437.8 L872.7,440.2 L871.5,442.5 L870.3,444.7 L869.0,446.9 L867.7,449.0 L866.3,451.0 L864.9,453.0 L863.6,454.8 L862.2,456.5 L860.7,458.2 L859.3,459.7 L857.9,461.0 L856.6,462.3 L855.2,463.4 L853.8,464.3 L852.5,465.1 L851.3,465.8 L850.0,466.3 L848.8,466.7 L847.7,466.9 L846.6,466.9 L845.6,466.8 L844.7,466.5 L843.8,466.1 L843.0,465.5 L842.2,464.7" fill="none" stroke="#0c0c0c" stroke-width="2.24" stroke-linecap="round" stroke-linejoin="round"/>
<path d="M804.6,462.5 L804.2,461.3 L803.9,460.1 L803.6,458.8 L803.3,457.5 L803.1,456.1 L803.0,454.6 L802.8,453.1 L802.7,451.6 L802.7,450.0 L802.7,448.4 L802.7,446.8 L802.8,445.1 L802.9,443.4 L803.1,441.7 L803.3,439.9 L803.5,438.1 L803.8,436.3 L804.2,434.4 L804.5,432.5 L804.9,430.7 L805.4,428.7 L805.9,426.8 L806.4,424.9 L807.0,423.0 L807.6,421.0 L808.2,419.1 L808.9,417.1 L809.6,415.2 L810.3,413.2 L811.1,411.3 L811.9,409.3 L812.7,407.4 L813.6,405.5 L814.5,403.6 L815.4,401.7 L816.4,399.8 L817.3,397.9 L818.3,396.1 L819.4,394.3 L820.4,392.5 L821.5,390.8 L822.6,389.1 L823.7,387.4 L824.8,385.7 L825.9,384.1 L827.1,382.6 L828.3,381.0 L829.4,379.5" fill="none" stroke="#0c0c0c" stroke-width="6.16" stroke-linecap="round" stroke-linejoin="round"/>
<path d="M842.9,462.8a0.6,0.6 0 1,0 1.3,0a0.6,0.6 0 1,0 -1.3,0M864.6,394.9a0.7,0.7 0 1,0 1.4,0a0.7,0.7 0 1,0 -1.4,0M861.6,423.8a0.8,0.8 0 1,0 1.6,0a0.8,0.8 0 1,0 -1.6,0M854.7,403.2a1.0,1.0 0 1,0 2.1,0a1.0,1.0 0 1,0 -2.1,0M851.0,458.1a0.8,0.8 0 1,0 1.5,0a0.8,0.8 0 1,0 -1.5,0M860.5,417.5a0.9,0.9 0 1,0 1.9,0a0.9,0.9 0 1,0 -1.9,0M847.8,441.8a0.8,0.8 0 1,0 1.7,0a0.8,0.8 0 1,0 -1.7,0M859.1,399.3a0.6,0.6 0 1,0 1.2,0a0.6,0.6 0 1,0 -1.2,0M841.2,461.6a0.9,0.9 0 1,0 1.8,0a0.9,0.9 0 1,0 -1.8,0M845.2,415.9a1.1,1.1 0 1,0 2.1,0a1.1,1.1 0 1,0 -2.1,0M838.8,447.5a0.6,0.6 0 1,0 1.2,0a0.6,0.6 0 1,0 -1.2,0M863.6,442.7a1.1,1.1 0 1,0 2.2,0a1.1,1.1 0 1,0 -2.2,0M870.9,427.3a0.7,0.7 0 1,0 1.3,0a0.7,0.7 0 1,0 -1.3,0M839.3,429.2a0.8,0.8 0 1,0 1.7,0a0.8,0.8 0 1,0 -1.7,0M835.7,458.2a0.8,0.8 0 1,0 1.7,0a0.8,0.8 0 1,0 -1.7,0M864.5,405.3a0.7,0.7 0 1,0 1.4,0a0.7,0.7 0 1,0 -1.4,0M844.6,421.1a0.8,0.8 0 1,0 1.5,0a0.8,0.8 0 1,0 -1.5,0M839.7,439.6a1.1,1.1 0 1,0 2.2,0a1.1,1.1 0 1,0 -2.2,0M841.7,447.6a0.7,0.7 0 1,0 1.5,0a0.7,0.7 0 1,0 -1.5,0M833.1,447.5a0.8,0.8 0 1,0 1.5,0a0.8,0.8 0 1,0 -1.5,0M840.3,422.0a0.7,0.7 0 1,0 1.4,0a0.7,0.7 0 1,0 -1.4,0M851.1,422.8a0.8,0.8 0 1,0 1.6,0a0.8,0.8 0 1,0 -1.6,0" fill="#0c0c0c"/>
<path d="M952.6,419.1 L957.4,421.6 L961.6,425.1 L965.4,429.4 L968.4,434.6 L970.9,440.5 L972.6,447.1 L973.5,454.1 L973.7,461.6 L973.2,469.3 L971.8,477.2 L969.8,485.1 L967.0,492.9 L963.6,500.4 L959.6,507.5 L955.1,514.0 L950.1,520.0 L944.8,525.2 L939.2,529.7 L933.4,533.2 L927.6,535.8 L921.7,537.3 L916.0,537.9 L910.6,537.4 L905.4,535.9 L900.6,533.4 L896.4,529.9 L892.6,525.6 L889.6,520.4 L887.1,514.5 L885.4,507.9 L884.5,500.9 L884.3,493.4 L884.8,485.7 L886.2,477.8 L888.2,469.9 L891.0,462.1 L894.4,454.6 L898.4,447.5 L902.9,441.0 L907.9,435.0 L913.2,429.8 L918.8,425.3 L924.6,421.8 L930.4,419.2 L936.3,417.7 L942.0,417.1 L947.4,417.6 L952.6,419.1 Z" fill="#fff" stroke="#0c0c0c" stroke-width="4.48" stroke-linecap="round" stroke-linejoin="round"/>
<path d="M952.0,425.1 L955.2,426.9 L958.0,429.6 L960.3,433.0 L962.1,437.3 L963.4,442.2 L964.2,447.7 L964.4,453.7 L964.0,460.1 L963.0,466.8 L961.5,473.7 L959.5,480.6 L957.0,487.5 L954.0,494.2 L950.6,500.6 L947.0,506.6 L943.0,512.0 L938.8,516.9 L934.5,521.1 L930.2,524.6 L925.8,527.2 L921.6,529.0 L917.5,529.9 L913.6,529.8 L910.0,528.9 L906.8,527.1 L904.0,524.4 L901.7,521.0 L899.9,516.7 L898.6,511.8 L897.8,506.3 L897.6,500.3 L898.0,493.9 L899.0,487.2 L900.5,480.3 L902.5,473.4 L905.0,466.5 L908.0,459.8 L911.4,453.4 L915.0,447.4 L919.0,442.0 L923.2,437.1 L927.5,432.9 L931.8,429.4 L936.2,426.8 L940.4,425.0 L944.5,424.1 L948.4,424.2 L952.0,425.1 Z" fill="#fff" stroke="#0c0c0c" stroke-width="4.03" stroke-linecap="round" stroke-linejoin="round"/>
<path d="M966.2,436.1 L966.9,438.0 L967.7,440.0 L968.3,442.1 L968.8,444.2 L969.3,446.5 L969.7,448.8 L969.9,451.1 L970.1,453.6 L970.2,456.1 L970.2,458.6 L970.2,461.2 L970.0,463.8 L969.7,466.4 L969.4,469.1 L968.9,471.8 L968.4,474.5 L967.8,477.2 L967.1,479.9 L966.3,482.6 L965.5,485.3 L964.6,487.9 L963.5,490.6 L962.5,493.2 L961.3,495.8 L960.1,498.3 L958.8,500.8 L957.4,503.3 L956.0,505.7 L954.5,508.0 L953.0,510.2 L951.4,512.4 L949.7,514.5 L948.1,516.5 L946.3,518.5 L944.6,520.3 L942.8,522.1 L941.0,523.7 L939.1,525.3 L937.3,526.7 L935.4,528.0 L933.5,529.2 L931.6,530.3 L929.7,531.3 L927.8,532.2 L925.9,532.9 L924.0,533.5 L922.2,534.0 L920.3,534.4" fill="none" stroke="#0c0c0c" stroke-width="2.02" stroke-linecap="round" stroke-linejoin="round"/>
<path d="M898.8,524.7 L897.8,523.2 L896.9,521.6 L896.1,519.9 L895.3,518.1 L894.7,516.3 L894.1,514.3 L893.6,512.3 L893.1,510.1 L892.8,508.0 L892.5,505.7 L892.4,503.4 L892.3,501.0 L892.3,498.6 L892.3,496.1 L892.5,493.6 L892.7,491.0 L893.1,488.4 L893.5,485.8 L894.0,483.2 L894.5,480.5 L895.2,477.9 L895.9,475.2 L896.7,472.6 L897.6,470.0 L898.5,467.3 L899.6,464.7 L900.7,462.2 L901.8,459.6 L903.0,457.2 L904.3,454.7 L905.6,452.3 L907.0,450.0 L908.5,447.7 L910.0,445.5 L911.5,443.3 L913.1,441.3 L914.7,439.3 L916.3,437.4 L918.0,435.6 L919.7,433.9 L921.4,432.3 L923.2,430.7 L924.9,429.3 L926.7,428.0 L928.5,426.8 L930.3,425.8 L932.1,424.8 L933.8,423.9" fill="none" stroke="#0c0c0c" stroke-width="1.79" stroke-linecap="round" stroke-linejoin="round"/>
<path d="M900.0,434.5 L908.0,437.0 L896.0,482.5 L888.0,480.0 Z" fill="#fff" stroke="#0c0c0c" stroke-width="3.14" stroke-linejoin="round"/>
<path d="M888.0,480.0 L897.0,484.0" fill="none" stroke="#0c0c0c" stroke-width="2.91" stroke-linecap="butt" stroke-linejoin="round"/>
<path d="M666.3,275.2 C668.4,273.6 671.8,277.5 674.5,277.6 C677.2,277.7 680.0,275.0 682.7,275.8 C685.4,276.6 688.5,281.4 690.9,282.3 C693.2,283.2 695.2,279.9 696.8,281.1 C698.4,282.3 698.9,286.6 700.3,289.3 C701.7,292.0 704.0,294.8 705.0,297.5 C706.0,300.2 706.6,302.6 706.2,305.7 C705.8,308.8 704.5,312.6 702.7,316.3 C700.9,320.0 698.3,324.7 695.6,328.0 C692.9,331.3 689.4,334.4 686.3,336.2 C683.2,337.9 679.8,338.7 676.9,338.5 C674.0,338.3 671.4,336.4 668.7,335.0 C666.0,333.6 662.5,332.1 660.5,330.3 C658.5,328.5 657.2,326.7 656.6,324.0 C656.0,321.3 656.5,317.8 656.8,314.0 C657.0,310.2 657.3,305.5 658.1,301.0 C658.9,296.5 660.2,291.3 661.6,287.0 C663.0,282.7 664.1,276.8 666.3,275.2 Z" fill="#fff" stroke="#0c0c0c" stroke-width="4.26" stroke-linecap="round" stroke-linejoin="round"/>
<path d="M674.5,278.8 C673.9,283.8 672.0,300.4 671.0,309.0 C670.0,317.6 669.1,326.8 668.7,330.3" fill="none" stroke="#0c0c0c" stroke-width="4.03" stroke-linecap="round" stroke-linejoin="round"/>
<path d="M672.5,296.0 L671.0,314.0" fill="none" stroke="#0c0c0c" stroke-width="5.82" stroke-linecap="butt" stroke-linejoin="round"/>
<path d="M685.0,280.0 L698.5,281.5 L699.0,291.6 L688.0,292.0 L684.0,287.0 Z" fill="#0c0c0c" stroke="#0c0c0c" stroke-width="1.34" stroke-linejoin="round"/>
<path d="M685.0,283.4 C683.6,286.3 679.2,294.0 676.9,301.0 C674.6,308.0 672.0,321.5 671.0,325.6" fill="none" stroke="#0c0c0c" stroke-width="3.36" stroke-linecap="round" stroke-linejoin="round"/>
<path d="M688.6,295.2 L681.0,311.0 L673.4,325.6" fill="none" stroke="#0c0c0c" stroke-width="4.93" stroke-linecap="butt" stroke-linejoin="round"/>
<path d="M658.0,309.0 L668.7,311.5" fill="none" stroke="#0c0c0c" stroke-width="2.69" stroke-linecap="butt" stroke-linejoin="round"/>
<path d="M696.0,290.0 C696.2,292.7 698.0,300.7 697.0,306.0 C696.0,311.3 693.2,317.5 690.0,322.0 C686.8,326.5 680.0,331.2 678.0,333.0" fill="none" stroke="#0c0c0c" stroke-width="3.36" stroke-linecap="round" stroke-linejoin="round"/>
<path d="M52.9,496.5 L54.3,497.3 L55.5,498.5 L56.5,499.9 L57.4,501.7 L57.9,503.6 L58.3,505.8 L58.4,508.1 L58.2,510.6 L57.9,513.1 L57.2,515.7 L56.4,518.3 L55.3,520.8 L54.1,523.2 L52.6,525.5 L51.1,527.7 L49.4,529.6 L47.6,531.3 L45.7,532.7 L43.9,533.8 L42.0,534.6 L40.1,535.1 L38.4,535.3 L36.7,535.1 L35.1,534.5 L33.7,533.7 L32.5,532.5 L31.5,531.1 L30.6,529.3 L30.1,527.4 L29.7,525.2 L29.6,522.9 L29.8,520.4 L30.1,517.9 L30.8,515.3 L31.6,512.7 L32.7,510.2 L33.9,507.8 L35.4,505.5 L36.9,503.3 L38.6,501.4 L40.4,499.7 L42.3,498.3 L44.1,497.2 L46.0,496.4 L47.9,495.9 L49.6,495.7 L51.3,495.9 L52.9,496.5 Z" fill="none" stroke="#0c0c0c" stroke-width="3.58" stroke-linecap="round" stroke-linejoin="round"/>
<path d="M81.0,527.0 L92.0,525.0 L118.0,543.0 L110.0,560.0 L99.0,578.0 L72.0,560.0 L70.0,545.0 L74.0,533.0 Z" fill="#0c0c0c" stroke="#0c0c0c" stroke-width="3.36" stroke-linejoin="round"/>
<path d="M90.0,538.0 L111.0,551.0" fill="none" stroke="#fff" stroke-width="2.80" stroke-linecap="butt" stroke-linejoin="round"/>
<path d="M87.8,544.0 L108.8,557.0" fill="none" stroke="#fff" stroke-width="2.80" stroke-linecap="butt" stroke-linejoin="round"/>
<path d="M85.6,550.0 L106.6,563.0" fill="none" stroke="#fff" stroke-width="2.80" stroke-linecap="butt" stroke-linejoin="round"/>
<path d="M83.4,556.0 L104.4,569.0" fill="none" stroke="#fff" stroke-width="2.80" stroke-linecap="butt" stroke-linejoin="round"/>
<path d="M81.2,562.0 L102.2,575.0" fill="none" stroke="#fff" stroke-width="2.80" stroke-linecap="butt" stroke-linejoin="round"/>
<path d="M71.6,568.1 L71.2,567.9 L70.8,567.6 L70.5,567.2 L70.2,566.7 L70.0,566.1 L69.8,565.5 L69.6,564.8 L69.6,564.0 L69.5,563.1 L69.5,562.2 L69.6,561.2 L69.7,560.2 L69.8,559.1 L70.0,558.0 L70.2,556.8 L70.5,555.6 L70.8,554.3 L71.2,553.1 L71.6,551.8 L72.0,550.5 L72.5,549.1 L73.0,547.8 L73.5,546.5 L74.1,545.2 L74.7,543.8 L75.3,542.6 L76.0,541.3 L76.6,540.0 L77.3,538.8 L78.0,537.7 L78.7,536.6 L79.4,535.5 L80.2,534.5 L80.9,533.5 L81.6,532.6 L82.3,531.8 L83.0,531.0 L83.7,530.3 L84.4,529.7 L85.1,529.2 L85.7,528.7 L86.3,528.3 L86.9,528.1 L87.5,527.8 L88.0,527.7 L88.5,527.7 L89.0,527.8 L89.4,527.9" fill="none" stroke="#fff" stroke-width="2.80" stroke-linecap="round" stroke-linejoin="round"/>
<path d="M118.0,545.0 L128.0,536.0 L141.6,532.0 L171.7,538.7 L197.5,549.4 L223.0,568.7 L242.6,579.5 L250.0,620.0 L215.0,690.0 L197.5,693.0 L176.0,682.6 L146.0,663.0 L120.0,639.6 L103.0,618.0 L98.7,594.5 Z" fill="#fff" stroke="#0c0c0c" stroke-width="0.00" stroke-linejoin="round"/>
<path d="M118.0,545.0 C119.7,543.5 124.1,538.2 128.0,536.0 C131.9,533.8 134.3,531.5 141.6,532.0 C148.9,532.5 162.4,535.8 171.7,538.7 C181.0,541.6 188.9,544.4 197.5,549.4 C206.1,554.4 215.5,563.7 223.0,568.7 C230.5,573.7 239.3,577.7 242.6,579.5" fill="none" stroke="#0c0c0c" stroke-width="4.03" stroke-linecap="round" stroke-linejoin="round"/>
<path d="M112.0,556.0 C110.5,559.2 105.2,568.6 103.0,575.0 C100.8,581.4 98.7,587.3 98.7,594.5 C98.7,601.7 99.5,610.5 103.0,618.0 C106.5,625.5 112.8,632.1 120.0,639.6 C127.2,647.1 136.7,655.8 146.0,663.0 C155.3,670.2 167.4,677.6 176.0,682.6 C184.6,687.6 193.9,691.3 197.5,693.0" fill="none" stroke="#0c0c0c" stroke-width="4.03" stroke-linecap="round" stroke-linejoin="round"/>
<path d="M146.0,532.0 Q100.5,568.0 101.0,620.0" fill="none" stroke="#0c0c0c" stroke-width="3.36" stroke-linecap="round"/>
<path d="M167.4,540.8 Q118.1,586.9 124.4,637.5" fill="none" stroke="#0c0c0c" stroke-width="3.36" stroke-linecap="round"/>
<path d="M128.0,536.0 Q98.7,566.8 98.7,594.5" fill="none" stroke="#0c0c0c" stroke-width="2.91" stroke-linecap="round"/>
<path d="M246.3,575.1 L249.9,577.5 L252.9,580.9 L255.3,585.2 L257.1,590.3 L258.1,596.2 L258.5,602.6 L258.1,609.6 L257.0,617.0 L255.3,624.7 L252.8,632.5 L249.8,640.3 L246.2,648.0 L242.1,655.4 L237.6,662.5 L232.7,669.0 L227.5,674.9 L222.2,680.1 L216.7,684.5 L211.3,688.1 L205.9,690.6 L200.8,692.2 L195.9,692.8 L191.4,692.4 L187.3,690.9 L183.7,688.5 L180.7,685.1 L178.3,680.8 L176.5,675.7 L175.5,669.8 L175.1,663.4 L175.5,656.4 L176.6,649.0 L178.3,641.3 L180.8,633.5 L183.8,625.7 L187.4,618.0 L191.5,610.6 L196.0,603.5 L200.9,597.0 L206.1,591.1 L211.4,585.9 L216.9,581.5 L222.3,577.9 L227.7,575.4 L232.8,573.8 L237.7,573.2 L242.2,573.6 L246.3,575.1 Z" fill="#fff" stroke="#0c0c0c" stroke-width="4.03" stroke-linecap="round" stroke-linejoin="round"/>
<path d="M182.5,687.1 L180.5,686.3 L178.5,685.2 L176.7,683.9 L175.1,682.3 L173.6,680.4 L172.3,678.3 L171.2,676.0 L170.2,673.4 L169.5,670.7 L168.9,667.7 L168.5,664.5 L168.3,661.2 L168.3,657.8 L168.5,654.1 L168.9,650.4 L169.5,646.6 L170.2,642.7 L171.2,638.7 L172.3,634.6 L173.6,630.6 L175.1,626.5 L176.8,622.5 L178.6,618.4 L180.5,614.5 L182.6,610.6 L184.8,606.8 L187.1,603.0 L189.5,599.5 L192.0,596.0 L194.6,592.7 L197.3,589.6 L200.0,586.7 L202.7,584.0 L205.5,581.5 L208.3,579.2 L211.2,577.1 L214.0,575.3 L216.7,573.8 L219.5,572.5 L222.2,571.5 L224.8,570.8 L227.3,570.3 L229.8,570.2 L232.2,570.3 L234.4,570.6 L236.6,571.3 L238.6,572.2 L240.4,573.5" fill="none" stroke="#0c0c0c" stroke-width="3.36" stroke-linecap="round" stroke-linejoin="round"/>
<path d="M174.4,681.6 L172.5,680.7 L170.8,679.5 L169.2,678.0 L167.8,676.4 L166.5,674.5 L165.4,672.4 L164.4,670.0 L163.7,667.5 L163.0,664.8 L162.6,661.9 L162.3,658.8 L162.2,655.6 L162.3,652.3 L162.6,648.8 L163.0,645.2 L163.7,641.5 L164.4,637.8 L165.4,634.0 L166.5,630.1 L167.8,626.3 L169.2,622.4 L170.8,618.5 L172.5,614.7 L174.4,610.9 L176.4,607.2 L178.4,603.6 L180.6,600.0 L182.9,596.6 L185.3,593.3 L187.8,590.1 L190.3,587.1 L192.8,584.3 L195.4,581.6 L198.1,579.1 L200.7,576.9 L203.4,574.8 L206.0,573.0 L208.7,571.4 L211.3,570.1 L213.8,569.0 L216.4,568.1 L218.8,567.6 L221.2,567.2 L223.5,567.1 L225.7,567.3 L227.7,567.8 L229.7,568.4 L231.5,569.4" fill="none" stroke="#0c0c0c" stroke-width="3.36" stroke-linecap="round" stroke-linejoin="round"/>
<path d="M167.9,677.2 L166.2,676.2 L164.6,675.0 L163.2,673.5 L161.9,671.8 L160.8,669.9 L159.8,667.8 L158.9,665.5 L158.3,663.0 L157.7,660.4 L157.4,657.5 L157.2,654.6 L157.2,651.4 L157.3,648.2 L157.7,644.8 L158.1,641.4 L158.8,637.8 L159.6,634.2 L160.5,630.6 L161.6,626.9 L162.9,623.1 L164.3,619.4 L165.8,615.7 L167.5,612.0 L169.3,608.4 L171.2,604.8 L173.2,601.3 L175.3,597.9 L177.5,594.5 L179.7,591.3 L182.1,588.3 L184.5,585.4 L186.9,582.6 L189.4,580.0 L191.9,577.6 L194.5,575.3 L197.0,573.3 L199.5,571.5 L202.1,569.9 L204.6,568.5 L207.0,567.3 L209.4,566.4 L211.8,565.8 L214.1,565.3 L216.3,565.1 L218.4,565.2 L220.4,565.5 L222.3,566.0 L224.1,566.8" fill="none" stroke="#0c0c0c" stroke-width="2.91" stroke-linecap="round" stroke-linejoin="round"/>
<path d="M247.0,587.0 L249.8,589.0 L252.1,591.7 L253.9,595.2 L255.2,599.5 L255.9,604.3 L256.0,609.7 L255.6,615.5 L254.5,621.7 L253.0,628.2 L250.8,634.7 L248.2,641.3 L245.2,647.8 L241.7,654.1 L237.9,660.1 L233.8,665.7 L229.6,670.7 L225.2,675.2 L220.7,679.0 L216.3,682.1 L212.0,684.3 L207.8,685.8 L203.9,686.4 L200.3,686.1 L197.0,685.0 L194.2,683.0 L191.9,680.3 L190.1,676.8 L188.8,672.5 L188.1,667.7 L188.0,662.3 L188.4,656.5 L189.5,650.3 L191.0,643.8 L193.2,637.3 L195.8,630.7 L198.8,624.2 L202.3,617.9 L206.1,611.9 L210.2,606.3 L214.4,601.3 L218.8,596.8 L223.3,593.0 L227.7,589.9 L232.0,587.7 L236.2,586.2 L240.1,585.6 L243.7,585.9 L247.0,587.0 Z" fill="none" stroke="#0c0c0c" stroke-width="3.36" stroke-linecap="round" stroke-linejoin="round"/>
<path d="M222.0,590.0 L238.0,596.0 L243.0,612.0 L240.0,640.0 L232.0,660.0 L212.0,676.0 L194.0,668.0 L186.0,652.0 L192.0,622.0 L204.0,600.0 Z" fill="#fff" stroke="#0c0c0c" stroke-width="3.36" stroke-linejoin="round"/>
<path d="M222.0,590.0 L214.0,612.0 L204.0,600.0" fill="none" stroke="#0c0c0c" stroke-width="2.69" stroke-linecap="butt" stroke-linejoin="round"/>
<path d="M214.0,612.0 L236.0,622.0 L243.0,612.0" fill="none" stroke="#0c0c0c" stroke-width="2.69" stroke-linecap="butt" stroke-linejoin="round"/>
<path d="M236.0,622.0 L232.0,648.0 L240.0,640.0" fill="none" stroke="#0c0c0c" stroke-width="2.69" stroke-linecap="butt" stroke-linejoin="round"/>
<path d="M206.0,630.0 L232.0,648.0 L226.0,664.0" fill="none" stroke="#0c0c0c" stroke-width="2.69" stroke-linecap="butt" stroke-linejoin="round"/>
<path d="M192.0,622.0 L206.0,630.0 L214.0,612.0" fill="none" stroke="#0c0c0c" stroke-width="2.69" stroke-linecap="butt" stroke-linejoin="round"/>
<path d="M198.0,652.0 L226.0,664.0 L212.0,676.0" fill="none" stroke="#0c0c0c" stroke-width="2.69" stroke-linecap="butt" stroke-linejoin="round"/>
<path d="M186.0,652.0 L198.0,652.0 L206.0,630.0" fill="none" stroke="#0c0c0c" stroke-width="2.69" stroke-linecap="butt" stroke-linejoin="round"/>
<path d="M193.0,663.0 L203.0,670.0 L214.7,674.0" fill="none" stroke="#0c0c0c" stroke-width="5.15" stroke-linecap="butt" stroke-linejoin="round"/>
<path d="M188.0,650.0 L193.0,663.0" fill="none" stroke="#0c0c0c" stroke-width="4.03" stroke-linecap="butt" stroke-linejoin="round"/>
<path d="M298.2,652.6 L300.3,653.9 L302.0,655.6 L303.6,657.7 L304.8,660.1 L305.6,662.8 L306.1,665.8 L306.3,669.0 L306.1,672.3 L305.6,675.7 L304.7,679.2 L303.5,682.6 L302.0,685.9 L300.2,689.1 L298.1,692.1 L295.9,694.8 L293.4,697.2 L290.8,699.4 L288.2,701.1 L285.4,702.4 L282.7,703.3 L280.1,703.8 L277.5,703.8 L275.0,703.3 L272.8,702.4 L270.7,701.1 L269.0,699.4 L267.4,697.3 L266.2,694.9 L265.4,692.2 L264.9,689.2 L264.7,686.0 L264.9,682.7 L265.4,679.3 L266.3,675.8 L267.5,672.4 L269.0,669.1 L270.8,665.9 L272.9,662.9 L275.1,660.2 L277.6,657.8 L280.2,655.6 L282.8,653.9 L285.6,652.6 L288.3,651.7 L290.9,651.2 L293.5,651.2 L296.0,651.7 L298.2,652.6 Z" fill="#0c0c0c" stroke="#0c0c0c" stroke-width="2.80" stroke-linecap="round" stroke-linejoin="round"/>
<path d="M297.8,659.8 L298.9,660.6 L299.8,661.7 L300.6,663.1 L301.1,664.8 L301.4,666.7 L301.5,668.8 L301.4,671.1 L301.0,673.5 L300.4,676.1 L299.6,678.6 L298.5,681.2 L297.4,683.8 L296.0,686.2 L294.5,688.6 L292.9,690.7 L291.2,692.7 L289.5,694.4 L287.7,695.9 L286.0,697.1 L284.2,698.0 L282.6,698.5 L281.0,698.7 L279.5,698.6 L278.2,698.2 L277.1,697.4 L276.2,696.3 L275.4,694.9 L274.9,693.2 L274.6,691.3 L274.5,689.2 L274.6,686.9 L275.0,684.5 L275.6,681.9 L276.4,679.4 L277.5,676.8 L278.6,674.2 L280.0,671.8 L281.5,669.4 L283.1,667.3 L284.8,665.3 L286.5,663.6 L288.3,662.1 L290.0,660.9 L291.8,660.0 L293.4,659.5 L295.0,659.3 L296.5,659.4 L297.8,659.8 Z" fill="none" stroke="#fff" stroke-width="1.68" stroke-linecap="round" stroke-linejoin="round"/>
<path d="M290.6,669.5 L290.7,669.6 L290.8,669.9 L290.8,670.4 L290.8,670.9 L290.6,671.6 L290.4,672.3 L290.1,673.2 L289.8,674.1 L289.4,675.1 L288.9,676.1 L288.4,677.2 L287.9,678.2 L287.4,679.3 L286.8,680.3 L286.3,681.2 L285.7,682.1 L285.1,683.0 L284.6,683.7 L284.1,684.3 L283.7,684.8 L283.3,685.2 L282.9,685.4 L282.6,685.5 L282.4,685.5 L282.3,685.4 L282.2,685.1 L282.2,684.6 L282.2,684.1 L282.4,683.4 L282.6,682.7 L282.9,681.8 L283.2,680.9 L283.6,679.9 L284.1,678.9 L284.6,677.8 L285.1,676.8 L285.6,675.7 L286.2,674.7 L286.7,673.8 L287.3,672.9 L287.9,672.0 L288.4,671.3 L288.9,670.7 L289.3,670.2 L289.7,669.8 L290.1,669.6 L290.4,669.5 L290.6,669.5 Z" fill="#fff" stroke="#fff" stroke-width="1.34" stroke-linecap="round" stroke-linejoin="round"/>
<path d="M281.0,646.0 L298.5,646.5 L299.0,659.0 L281.0,659.0 Z" fill="#0c0c0c" stroke="#0c0c0c" stroke-width="1.68" stroke-linejoin="round"/>
<circle cx="262" cy="689" r="1.6" fill="#0c0c0c"/>
<path d="M349.8,765.0 L347.1,765.8 L344.5,766.2 L341.9,766.3 L339.4,766.1 L337.1,765.6 L334.9,764.7 L332.8,763.6 L330.9,762.1 L329.2,760.3 L327.6,758.2 L326.3,755.9 L325.2,753.3 L324.3,750.6 L323.6,747.6 L323.2,744.4 L323.0,741.0 L323.1,737.6 L323.4,734.0 L323.9,730.3 L324.6,726.6 L325.6,722.9 L326.8,719.2 L328.3,715.5 L329.9,711.9 L331.7,708.4 L333.6,705.0 L335.8,701.7 L338.0,698.6 L340.4,695.8 L342.9,693.1 L345.5,690.7 L348.2,688.5 L350.9,686.6 L353.6,685.0 L356.3,683.7 L359.0,682.7 L361.7,682.0 L364.3,681.7 L366.8,681.7 L369.3,682.0 L371.6,682.6 L373.8,683.6 L375.8,684.9 L377.6,686.4 L379.3,688.3 L380.8,690.4 L382.0,692.8 L383.1,695.5 L376.0,697.0 Z" fill="#fff" stroke="#0c0c0c" stroke-width="0.00" stroke-linejoin="round"/>
<path d="M349.8,765.0 L347.1,765.8 L344.5,766.2 L341.9,766.3 L339.4,766.1 L337.1,765.6 L334.9,764.7 L332.8,763.6 L330.9,762.1 L329.2,760.3 L327.6,758.2 L326.3,755.9 L325.2,753.3 L324.3,750.6 L323.6,747.6 L323.2,744.4 L323.0,741.0 L323.1,737.6 L323.4,734.0 L323.9,730.3 L324.6,726.6 L325.6,722.9 L326.8,719.2 L328.3,715.5 L329.9,711.9 L331.7,708.4 L333.6,705.0 L335.8,701.7 L338.0,698.6 L340.4,695.8 L342.9,693.1 L345.5,690.7 L348.2,688.5 L350.9,686.6 L353.6,685.0 L356.3,683.7 L359.0,682.7 L361.7,682.0 L364.3,681.7 L366.8,681.7 L369.3,682.0 L371.6,682.6 L373.8,683.6 L375.8,684.9 L377.6,686.4 L379.3,688.3 L380.8,690.4 L382.0,692.8 L383.1,695.5" fill="none" stroke="#0c0c0c" stroke-width="3.81" stroke-linecap="butt" stroke-linejoin="round"/>
<path d="M376.0,690.5 L386.0,700.0" fill="none" stroke="#0c0c0c" stroke-width="3.36" stroke-linecap="butt" stroke-linejoin="round"/>
<path d="M368.7,687.5 L368.9,688.6 L368.9,689.6 L368.9,690.6 L368.8,691.6 L368.6,692.5 L368.3,693.4 L367.9,694.1 L367.5,694.8 L367.0,695.3 L366.4,695.8 L365.8,696.1 L365.2,696.3 L364.5,696.3 L363.9,696.2 L363.2,696.0 L362.5,695.7 L361.9,695.2 L361.3,694.6 L360.7,693.9 L360.2,693.1 L359.8,692.2 L359.4,691.3 L359.1,690.3 L358.9,689.3 L358.7,688.2 L358.7,687.2 L358.7,686.2 L358.8,685.2 L359.0,684.3 L359.3,683.4 L359.7,682.7 L360.1,682.0 L360.6,681.5 L361.2,681.0 L361.8,680.7 L362.4,680.5 L363.1,680.5 L363.7,680.6 L364.4,680.8 L365.1,681.1 L365.7,681.6 L366.3,682.2 L366.9,682.9 L367.4,683.7 L367.8,684.6 L368.2,685.5 L368.5,686.5 L368.7,687.5 Z" fill="none" stroke="#0c0c0c" stroke-width="3.14" stroke-linecap="round" stroke-linejoin="round"/>
<path d="M344.7,701.1 L345.4,701.4 L346.0,701.9 L346.5,702.5 L346.9,703.2 L347.2,704.1 L347.5,705.0 L347.6,706.1 L347.6,707.2 L347.5,708.3 L347.3,709.5 L347.0,710.7 L346.7,711.9 L346.2,713.0 L345.7,714.1 L345.0,715.2 L344.4,716.1 L343.6,716.9 L342.9,717.6 L342.1,718.2 L341.3,718.7 L340.5,719.0 L339.7,719.1 L339.0,719.1 L338.3,718.9 L337.6,718.6 L337.0,718.1 L336.5,717.5 L336.1,716.8 L335.8,715.9 L335.5,715.0 L335.4,713.9 L335.4,712.8 L335.5,711.7 L335.7,710.5 L336.0,709.3 L336.3,708.1 L336.8,707.0 L337.3,705.9 L338.0,704.8 L338.6,703.9 L339.4,703.1 L340.1,702.4 L340.9,701.8 L341.7,701.3 L342.5,701.0 L343.3,700.9 L344.0,700.9 L344.7,701.1 Z" fill="none" stroke="#0c0c0c" stroke-width="3.14" stroke-linecap="round" stroke-linejoin="round"/>
<path d="M336.8,740.8 L337.6,741.3 L338.3,741.9 L338.9,742.6 L339.5,743.4 L339.9,744.3 L340.2,745.3 L340.3,746.4 L340.4,747.5 L340.3,748.6 L340.1,749.7 L339.8,750.9 L339.3,752.0 L338.8,753.0 L338.1,754.0 L337.4,754.9 L336.6,755.6 L335.7,756.3 L334.8,756.9 L333.8,757.3 L332.9,757.5 L331.9,757.7 L331.0,757.6 L330.1,757.5 L329.2,757.2 L328.4,756.7 L327.7,756.1 L327.1,755.4 L326.5,754.6 L326.1,753.7 L325.8,752.7 L325.7,751.6 L325.6,750.5 L325.7,749.4 L325.9,748.3 L326.2,747.1 L326.7,746.0 L327.2,745.0 L327.9,744.0 L328.6,743.1 L329.4,742.4 L330.3,741.7 L331.2,741.1 L332.2,740.7 L333.1,740.5 L334.1,740.3 L335.0,740.4 L335.9,740.5 L336.8,740.8 Z" fill="none" stroke="#0c0c0c" stroke-width="3.14" stroke-linecap="round" stroke-linejoin="round"/>
<path d="M346.2,754.0 L346.3,754.4 L346.4,754.8 L346.4,755.2 L346.2,755.7 L346.0,756.2 L345.7,756.7 L345.4,757.2 L344.9,757.8 L344.4,758.3 L343.8,758.7 L343.2,759.2 L342.5,759.6 L341.8,760.0 L341.1,760.3 L340.4,760.5 L339.7,760.8 L339.0,760.9 L338.4,761.0 L337.8,761.0 L337.2,760.9 L336.8,760.8 L336.4,760.6 L336.0,760.3 L335.8,760.0 L335.7,759.6 L335.6,759.2 L335.6,758.8 L335.8,758.3 L336.0,757.8 L336.3,757.3 L336.6,756.8 L337.1,756.2 L337.6,755.7 L338.2,755.3 L338.8,754.8 L339.5,754.4 L340.2,754.0 L340.9,753.7 L341.6,753.5 L342.3,753.2 L343.0,753.1 L343.6,753.0 L344.2,753.0 L344.8,753.1 L345.2,753.2 L345.6,753.4 L346.0,753.7 L346.2,754.0 Z" fill="none" stroke="#0c0c0c" stroke-width="2.24" stroke-linecap="round" stroke-linejoin="round"/>
<path d="M387.9,698.2 L390.2,699.7 L392.3,701.8 L393.9,704.4 L395.2,707.5 L396.0,711.1 L396.4,715.1 L396.4,719.5 L395.9,724.1 L395.1,728.8 L393.8,733.7 L392.1,738.6 L390.0,743.4 L387.7,748.0 L385.0,752.5 L382.1,756.6 L379.0,760.3 L375.8,763.6 L372.5,766.4 L369.2,768.7 L365.9,770.3 L362.7,771.4 L359.6,771.8 L356.7,771.6 L354.1,770.8 L351.8,769.3 L349.7,767.2 L348.1,764.6 L346.8,761.5 L346.0,757.9 L345.6,753.9 L345.6,749.5 L346.1,744.9 L346.9,740.2 L348.2,735.3 L349.9,730.4 L352.0,725.6 L354.3,721.0 L357.0,716.5 L359.9,712.4 L363.0,708.7 L366.2,705.4 L369.5,702.6 L372.8,700.3 L376.1,698.7 L379.3,697.6 L382.4,697.2 L385.3,697.4 L387.9,698.2 Z" fill="#fff" stroke="#0c0c0c" stroke-width="4.26" stroke-linecap="round" stroke-linejoin="round"/>
<path d="M384.4,704.2 L386.1,705.3 L387.6,707.0 L388.8,709.1 L389.7,711.7 L390.2,714.7 L390.4,718.0 L390.3,721.6 L389.7,725.4 L388.9,729.5 L387.7,733.6 L386.3,737.7 L384.5,741.8 L382.5,745.7 L380.3,749.5 L377.9,753.0 L375.4,756.3 L372.8,759.1 L370.1,761.6 L367.4,763.6 L364.8,765.1 L362.3,766.1 L359.9,766.5 L357.6,766.4 L355.6,765.8 L353.9,764.7 L352.4,763.0 L351.2,760.9 L350.3,758.3 L349.8,755.3 L349.6,752.0 L349.7,748.4 L350.3,744.6 L351.1,740.5 L352.3,736.4 L353.7,732.3 L355.5,728.2 L357.5,724.3 L359.7,720.5 L362.1,717.0 L364.6,713.7 L367.2,710.9 L369.9,708.4 L372.6,706.4 L375.2,704.9 L377.7,703.9 L380.1,703.5 L382.4,703.6 L384.4,704.2 Z" fill="none" stroke="#0c0c0c" stroke-width="3.36" stroke-linecap="round" stroke-linejoin="round"/>
<path d="M380.4,711.0 L381.5,711.8 L382.4,713.0 L383.0,714.5 L383.4,716.4 L383.6,718.7 L383.5,721.2 L383.1,724.0 L382.6,726.9 L381.7,730.0 L380.7,733.2 L379.5,736.5 L378.1,739.7 L376.5,742.9 L374.8,745.9 L373.0,748.8 L371.1,751.4 L369.2,753.7 L367.3,755.8 L365.5,757.5 L363.6,758.8 L361.9,759.7 L360.3,760.2 L358.9,760.3 L357.6,760.0 L356.5,759.2 L355.6,758.0 L355.0,756.5 L354.6,754.6 L354.4,752.3 L354.5,749.8 L354.9,747.0 L355.4,744.1 L356.3,741.0 L357.3,737.8 L358.5,734.5 L359.9,731.3 L361.5,728.1 L363.2,725.1 L365.0,722.2 L366.9,719.6 L368.8,717.3 L370.7,715.2 L372.5,713.5 L374.4,712.2 L376.1,711.3 L377.7,710.8 L379.1,710.7 L380.4,711.0 Z" fill="none" stroke="#0c0c0c" stroke-width="3.14" stroke-linecap="round" stroke-linejoin="round"/>
<path d="M382.0,705.0 L372.0,728.0 L360.0,758.0" fill="none" stroke="#0c0c0c" stroke-width="2.91" stroke-linecap="butt" stroke-linejoin="round"/>
<path d="M374.0,712.0 L366.0,734.0" fill="none" stroke="#0c0c0c" stroke-width="3.81" stroke-linecap="butt" stroke-linejoin="round"/>
<circle cx="372" cy="737" r="2.6" fill="#fff" stroke="#0c0c0c" stroke-width="1.8"/>
<circle cx="380" cy="708" r="2.2" fill="#fff" stroke="#0c0c0c" stroke-width="1.6"/>
<circle cx="353" cy="752" r="2.6" fill="#fff" stroke="#0c0c0c" stroke-width="1.6"/>
<path d="M351.0,750.0 L350.5,772.0" fill="none" stroke="#0c0c0c" stroke-width="4.93" stroke-linecap="butt" stroke-linejoin="round"/>
<path d="M395.7,793.1 L394.3,791.5 L393.2,789.7 L392.2,787.6 L391.3,785.3 L390.7,782.9 L390.2,780.2 L390.0,777.4 L389.9,774.5 L390.1,771.5 L390.4,768.4 L390.9,765.3 L391.6,762.1 L392.5,758.9 L393.6,755.7 L394.8,752.6 L396.2,749.5 L397.7,746.5 L399.4,743.6 L401.2,740.9 L403.1,738.3 L405.1,735.9 L407.1,733.7 L409.3,731.7 L411.4,729.9 L413.7,728.4 L415.9,727.1 L418.1,726.1 L420.3,725.4 L422.4,724.9 L424.5,724.7 L426.5,724.8 L428.5,725.2 L430.3,725.8 L432.0,726.8 L433.6,728.0 L435.0,729.4 L436.3,731.1 L437.4,733.0 L438.3,735.2 L439.1,737.5 L439.7,740.1 L440.1,742.7 L440.3,745.6 L440.3,748.5 L440.1,751.6 L439.7,754.7 L439.1,757.9 L438.3,761.1 L437.4,764.3 L436.2,767.4 L434.9,770.5 L433.5,773.6 L431.9,776.5 L430.2,779.4 L428.4,782.0 L426.4,784.6 L424.4,786.9 L422.3,789.0 L420.2,791.0 L418.0,792.6" fill="none" stroke="#0c0c0c" stroke-width="6.94" stroke-linecap="round" stroke-linejoin="round"/>
<path d="M395.7,793.1 L394.3,791.5 L393.2,789.7 L392.2,787.6 L391.3,785.3 L390.7,782.9 L390.2,780.2 L390.0,777.4 L389.9,774.5 L390.1,771.5 L390.4,768.4 L390.9,765.3 L391.6,762.1 L392.5,758.9 L393.6,755.7 L394.8,752.6 L396.2,749.5 L397.7,746.5 L399.4,743.6 L401.2,740.9 L403.1,738.3 L405.1,735.9 L407.1,733.7 L409.3,731.7 L411.4,729.9 L413.7,728.4 L415.9,727.1 L418.1,726.1 L420.3,725.4 L422.4,724.9 L424.5,724.7 L426.5,724.8 L428.5,725.2 L430.3,725.8 L432.0,726.8 L433.6,728.0 L435.0,729.4 L436.3,731.1 L437.4,733.0 L438.3,735.2 L439.1,737.5 L439.7,740.1 L440.1,742.7 L440.3,745.6 L440.3,748.5 L440.1,751.6 L439.7,754.7 L439.1,757.9 L438.3,761.1 L437.4,764.3 L436.2,767.4 L434.9,770.5 L433.5,773.6 L431.9,776.5 L430.2,779.4 L428.4,782.0 L426.4,784.6 L424.4,786.9 L422.3,789.0 L420.2,791.0 L418.0,792.6" fill="none" stroke="#fff" stroke-width="1.68" stroke-linecap="round" stroke-linejoin="round"/>
<path d="M396.8,794.2 L395.2,792.6 L393.8,790.7 L392.5,788.4 L391.5,785.9 L390.8,783.1 L390.2,780.1 L390.0,776.9 L389.9,773.6 L390.2,770.1 L390.7,766.5 L391.4,762.9 L392.4,759.3 L393.6,755.7 L395.0,752.1 L396.6,748.6 L398.4,745.3 L400.4,742.1 L402.5,739.1 L404.7,736.3 L407.1,733.7" fill="none" stroke="#0c0c0c" stroke-width="7.84" stroke-linecap="round" stroke-linejoin="round"/>
<path d="M398.0,791.0 L408.0,793.0 L408.5,799.0 L400.0,800.5 L395.5,796.0 Z" fill="#0c0c0c" stroke="#0c0c0c" stroke-width="1.68" stroke-linejoin="round"/>
<path d="M532.6,763.9 L537.7,766.5 L542.2,770.0 L546.2,774.5 L549.5,779.9 L552.1,786.1 L554.0,793.0 L555.2,800.4 L555.5,808.3 L555.0,816.5 L553.7,824.8 L551.7,833.2 L548.9,841.4 L545.5,849.4 L541.4,857.0 L536.8,864.0 L531.6,870.4 L526.1,876.0 L520.3,880.8 L514.3,884.6 L508.2,887.5 L502.1,889.3 L496.2,890.0 L490.4,889.6 L485.0,888.1 L479.9,885.5 L475.4,882.0 L471.4,877.5 L468.1,872.1 L465.5,865.9 L463.6,859.0 L462.4,851.6 L462.1,843.7 L462.6,835.5 L463.9,827.2 L465.9,818.8 L468.7,810.6 L472.1,802.6 L476.2,795.0 L480.8,788.0 L486.0,781.6 L491.5,776.0 L497.3,771.2 L503.3,767.4 L509.4,764.5 L515.5,762.7 L521.4,762.0 L527.2,762.4 L532.6,763.9 Z" fill="#fff" stroke="#0c0c0c" stroke-width="4.48" stroke-linecap="round" stroke-linejoin="round"/>
<path d="M529.0,774.9 L532.5,776.8 L535.6,779.4 L538.3,782.9 L540.4,787.1 L542.0,792.0 L543.1,797.4 L543.6,803.4 L543.5,809.7 L542.8,816.3 L541.6,823.0 L539.8,829.8 L537.5,836.6 L534.7,843.1 L531.5,849.4 L527.9,855.2 L524.0,860.6 L519.8,865.3 L515.5,869.4 L511.1,872.7 L506.6,875.2 L502.2,876.9 L497.9,877.7 L493.8,877.6 L490.0,876.7 L486.5,874.8 L483.4,872.2 L480.7,868.7 L478.6,864.5 L477.0,859.6 L475.9,854.2 L475.4,848.2 L475.5,841.9 L476.2,835.3 L477.4,828.6 L479.2,821.8 L481.5,815.0 L484.3,808.5 L487.5,802.2 L491.1,796.4 L495.0,791.0 L499.2,786.3 L503.5,782.2 L507.9,778.9 L512.4,776.4 L516.8,774.7 L521.1,773.9 L525.2,774.0 L529.0,774.9 Z" fill="#fff" stroke="#0c0c0c" stroke-width="4.03" stroke-linecap="round" stroke-linejoin="round"/>
<path d="M546.0,782.7 L546.9,784.7 L547.7,786.7 L548.4,788.9 L549.0,791.1 L549.5,793.4 L550.0,795.8 L550.3,798.3 L550.6,800.8 L550.8,803.4 L550.9,806.0 L550.8,808.6 L550.7,811.4 L550.5,814.1 L550.2,816.9 L549.8,819.6 L549.4,822.4 L548.8,825.3 L548.1,828.1 L547.4,830.9 L546.6,833.7 L545.6,836.4 L544.6,839.2 L543.6,841.9 L542.4,844.6 L541.2,847.3 L539.9,849.9 L538.5,852.4 L537.1,854.9 L535.6,857.3 L534.0,859.7 L532.4,861.9 L530.7,864.1 L529.0,866.3 L527.3,868.3 L525.5,870.2 L523.6,872.0 L521.7,873.8 L519.9,875.4 L517.9,876.9 L516.0,878.3 L514.0,879.6 L512.1,880.7 L510.1,881.8 L508.1,882.7 L506.1,883.5 L504.2,884.1 L502.2,884.7 L500.3,885.0" fill="none" stroke="#0c0c0c" stroke-width="2.02" stroke-linecap="round" stroke-linejoin="round"/>
<path d="M477.6,874.3 L476.6,872.8 L475.6,871.2 L474.6,869.5 L473.8,867.7 L473.0,865.8 L472.3,863.8 L471.7,861.7 L471.2,859.5 L470.8,857.3 L470.4,855.0 L470.2,852.6 L470.0,850.1 L469.9,847.7 L469.9,845.1 L470.0,842.5 L470.2,839.9 L470.4,837.3 L470.8,834.6 L471.2,831.9 L471.7,829.2 L472.3,826.5 L473.0,823.8 L473.7,821.1 L474.6,818.4 L475.5,815.7 L476.5,813.1 L477.5,810.4 L478.7,807.8 L479.9,805.3 L481.1,802.8 L482.5,800.3 L483.9,797.9 L485.3,795.6 L486.8,793.3 L488.4,791.1 L489.9,789.0 L491.6,787.0 L493.3,785.0 L495.0,783.2 L496.7,781.4 L498.5,779.8 L500.3,778.2 L502.1,776.8 L503.9,775.4 L505.7,774.2 L507.6,773.1 L509.4,772.1 L511.3,771.2" fill="none" stroke="#0c0c0c" stroke-width="1.79" stroke-linecap="round" stroke-linejoin="round"/>
<path d="M481.0,790.0 L489.0,792.5 L477.0,842.0 L469.0,839.5 Z" fill="#fff" stroke="#0c0c0c" stroke-width="3.14" stroke-linejoin="round"/>
<path d="M469.0,839.5 L478.0,844.0" fill="none" stroke="#0c0c0c" stroke-width="2.91" stroke-linecap="butt" stroke-linejoin="round"/>
<path d="M508.0,762.5 L521.0,762.5 L521.0,770.0 L508.0,770.0 Z" fill="#0c0c0c" stroke="#0c0c0c" stroke-width="1.12" stroke-linejoin="round"/>
<path d="M582.2,821.9 L593.1,821.9 L615.0,830.6 L619.7,836.9 L630.6,838.4 L646.2,847.8 L647.8,854.1 L658.8,857.2 L677.5,868.1 L685.3,882.2 L683.8,886.9 L690.0,889.4 L697.8,899.4 L699.4,910.3 L704.1,911.9 L710.3,921.2 L711.9,930.6 L719.7,940.0 L730.6,943.1 L711.9,997.8 L699.4,994.7 L686.9,990.0 L674.4,988.4 L665.0,982.2 L655.6,980.6 L643.1,979.1 L627.5,972.8 L618.1,974.4 L602.5,965.0 L586.9,955.6 L571.2,943.1 L558.8,940.0 L546.2,924.4 L540.6,905.6 L540.0,886.9 L549.4,858.8 L565.0,835.3 Z" fill="#fff" stroke="#0c0c0c" stroke-width="0.00" stroke-linejoin="round"/>
<path d="M657.5,952.4a1.3,1.3 0 1,0 2.5,0a1.3,1.3 0 1,0 -2.5,0M718.3,952.1a1.3,1.3 0 1,0 2.7,0a1.3,1.3 0 1,0 -2.7,0M544.2,903.8a1.4,1.4 0 1,0 2.7,0a1.4,1.4 0 1,0 -2.7,0M662.9,980.4a0.8,0.8 0 1,0 1.6,0a0.8,0.8 0 1,0 -1.6,0M628.3,865.3a1.1,1.1 0 1,0 2.2,0a1.1,1.1 0 1,0 -2.2,0M580.0,871.0a1.3,1.3 0 1,0 2.7,0a1.3,1.3 0 1,0 -2.7,0M578.5,859.8a1.4,1.4 0 1,0 2.8,0a1.4,1.4 0 1,0 -2.8,0M718.0,943.4a1.4,1.4 0 1,0 2.8,0a1.4,1.4 0 1,0 -2.8,0M608.0,851.1a0.8,0.8 0 1,0 1.6,0a0.8,0.8 0 1,0 -1.6,0M551.3,874.9a1.1,1.1 0 1,0 2.2,0a1.1,1.1 0 1,0 -2.2,0M603.1,876.4a1.3,1.3 0 1,0 2.5,0a1.3,1.3 0 1,0 -2.5,0M630.6,877.4a1.0,1.0 0 1,0 2.1,0a1.0,1.0 0 1,0 -2.1,0M682.2,970.5a0.7,0.7 0 1,0 1.4,0a0.7,0.7 0 1,0 -1.4,0M682.7,985.4a1.4,1.4 0 1,0 2.7,0a1.4,1.4 0 1,0 -2.7,0M604.6,884.3a1.1,1.1 0 1,0 2.1,0a1.1,1.1 0 1,0 -2.1,0M681.4,962.1a1.3,1.3 0 1,0 2.6,0a1.3,1.3 0 1,0 -2.6,0M556.3,881.8a1.1,1.1 0 1,0 2.3,0a1.1,1.1 0 1,0 -2.3,0M598.7,877.6a0.8,0.8 0 1,0 1.6,0a0.8,0.8 0 1,0 -1.6,0M616.3,863.6a1.1,1.1 0 1,0 2.2,0a1.1,1.1 0 1,0 -2.2,0M696.5,902.0a1.0,1.0 0 1,0 2.0,0a1.0,1.0 0 1,0 -2.0,0M545.0,908.7a1.3,1.3 0 1,0 2.6,0a1.3,1.3 0 1,0 -2.6,0M621.5,848.1a1.3,1.3 0 1,0 2.6,0a1.3,1.3 0 1,0 -2.6,0M594.8,901.6a1.4,1.4 0 1,0 2.8,0a1.4,1.4 0 1,0 -2.8,0M701.4,993.6a1.0,1.0 0 1,0 2.0,0a1.0,1.0 0 1,0 -2.0,0M632.0,950.2a1.0,1.0 0 1,0 2.1,0a1.0,1.0 0 1,0 -2.1,0M594.7,892.9a0.8,0.8 0 1,0 1.6,0a0.8,0.8 0 1,0 -1.6,0M634.4,881.4a0.8,0.8 0 1,0 1.5,0a0.8,0.8 0 1,0 -1.5,0M688.6,958.2a1.2,1.2 0 1,0 2.4,0a1.2,1.2 0 1,0 -2.4,0M665.6,955.5a1.0,1.0 0 1,0 1.9,0a1.0,1.0 0 1,0 -1.9,0M673.2,871.3a1.0,1.0 0 1,0 2.1,0a1.0,1.0 0 1,0 -2.1,0M685.8,943.4a0.9,0.9 0 1,0 1.8,0a0.9,0.9 0 1,0 -1.8,0M643.1,866.0a1.2,1.2 0 1,0 2.3,0a1.2,1.2 0 1,0 -2.3,0M627.1,965.6a1.2,1.2 0 1,0 2.3,0a1.2,1.2 0 1,0 -2.3,0M661.5,951.7a1.3,1.3 0 1,0 2.6,0a1.3,1.3 0 1,0 -2.6,0M704.4,943.0a1.4,1.4 0 1,0 2.8,0a1.4,1.4 0 1,0 -2.8,0M639.6,851.1a1.3,1.3 0 1,0 2.6,0a1.3,1.3 0 1,0 -2.6,0M670.6,948.5a1.2,1.2 0 1,0 2.4,0a1.2,1.2 0 1,0 -2.4,0M649.7,939.0a1.0,1.0 0 1,0 2.0,0a1.0,1.0 0 1,0 -2.0,0M657.8,958.2a1.1,1.1 0 1,0 2.3,0a1.1,1.1 0 1,0 -2.3,0M569.3,899.5a1.2,1.2 0 1,0 2.3,0a1.2,1.2 0 1,0 -2.3,0M580.6,942.6a1.1,1.1 0 1,0 2.3,0a1.1,1.1 0 1,0 -2.3,0M547.1,904.8a0.9,0.9 0 1,0 1.7,0a0.9,0.9 0 1,0 -1.7,0M599.7,853.8a0.8,0.8 0 1,0 1.7,0a0.8,0.8 0 1,0 -1.7,0M545.8,903.7a1.0,1.0 0 1,0 1.9,0a1.0,1.0 0 1,0 -1.9,0M655.8,925.7a0.9,0.9 0 1,0 1.7,0a0.9,0.9 0 1,0 -1.7,0M616.3,870.9a1.0,1.0 0 1,0 2.0,0a1.0,1.0 0 1,0 -2.0,0M642.8,881.6a1.1,1.1 0 1,0 2.2,0a1.1,1.1 0 1,0 -2.2,0M721.7,965.9a1.0,1.0 0 1,0 2.0,0a1.0,1.0 0 1,0 -2.0,0M694.0,934.9a1.0,1.0 0 1,0 1.9,0a1.0,1.0 0 1,0 -1.9,0M566.0,926.7a1.1,1.1 0 1,0 2.2,0a1.1,1.1 0 1,0 -2.2,0M654.7,883.6a1.3,1.3 0 1,0 2.7,0a1.3,1.3 0 1,0 -2.7,0M647.1,930.1a0.8,0.8 0 1,0 1.6,0a0.8,0.8 0 1,0 -1.6,0M659.0,978.7a1.0,1.0 0 1,0 1.9,0a1.0,1.0 0 1,0 -1.9,0M621.4,861.7a0.9,0.9 0 1,0 1.8,0a0.9,0.9 0 1,0 -1.8,0M652.2,867.6a1.4,1.4 0 1,0 2.8,0a1.4,1.4 0 1,0 -2.8,0M633.7,895.0a0.9,0.9 0 1,0 1.8,0a0.9,0.9 0 1,0 -1.8,0M593.8,905.8a0.8,0.8 0 1,0 1.6,0a0.8,0.8 0 1,0 -1.6,0M657.6,899.9a0.9,0.9 0 1,0 1.8,0a0.9,0.9 0 1,0 -1.8,0M688.3,967.3a0.7,0.7 0 1,0 1.4,0a0.7,0.7 0 1,0 -1.4,0M640.2,870.0a1.4,1.4 0 1,0 2.7,0a1.4,1.4 0 1,0 -2.7,0M589.6,849.1a1.4,1.4 0 1,0 2.8,0a1.4,1.4 0 1,0 -2.8,0M594.9,928.9a1.0,1.0 0 1,0 2.1,0a1.0,1.0 0 1,0 -2.1,0M661.7,928.1a1.2,1.2 0 1,0 2.4,0a1.2,1.2 0 1,0 -2.4,0M596.4,915.7a0.9,0.9 0 1,0 1.9,0a0.9,0.9 0 1,0 -1.9,0M595.6,915.1a1.0,1.0 0 1,0 2.1,0a1.0,1.0 0 1,0 -2.1,0M607.7,953.0a1.1,1.1 0 1,0 2.2,0a1.1,1.1 0 1,0 -2.2,0M545.9,866.3a1.0,1.0 0 1,0 2.0,0a1.0,1.0 0 1,0 -2.0,0M713.6,978.1a1.1,1.1 0 1,0 2.2,0a1.1,1.1 0 1,0 -2.2,0M620.3,923.2a1.2,1.2 0 1,0 2.4,0a1.2,1.2 0 1,0 -2.4,0M659.2,906.7a1.3,1.3 0 1,0 2.7,0a1.3,1.3 0 1,0 -2.7,0M612.2,890.8a1.3,1.3 0 1,0 2.6,0a1.3,1.3 0 1,0 -2.6,0M576.2,874.0a1.3,1.3 0 1,0 2.6,0a1.3,1.3 0 1,0 -2.6,0M671.5,898.0a0.9,0.9 0 1,0 1.8,0a0.9,0.9 0 1,0 -1.8,0M688.0,982.1a0.8,0.8 0 1,0 1.6,0a0.8,0.8 0 1,0 -1.6,0M630.1,918.5a1.0,1.0 0 1,0 2.1,0a1.0,1.0 0 1,0 -2.1,0M601.9,848.9a1.1,1.1 0 1,0 2.2,0a1.1,1.1 0 1,0 -2.2,0M690.2,938.6a0.7,0.7 0 1,0 1.4,0a0.7,0.7 0 1,0 -1.4,0M580.4,935.5a1.4,1.4 0 1,0 2.7,0a1.4,1.4 0 1,0 -2.7,0M567.6,929.3a1.0,1.0 0 1,0 2.0,0a1.0,1.0 0 1,0 -2.0,0M570.0,931.4a0.7,0.7 0 1,0 1.5,0a0.7,0.7 0 1,0 -1.5,0M559.9,888.6a0.8,0.8 0 1,0 1.5,0a0.8,0.8 0 1,0 -1.5,0M549.8,923.1a1.2,1.2 0 1,0 2.4,0a1.2,1.2 0 1,0 -2.4,0M621.2,877.2a1.1,1.1 0 1,0 2.2,0a1.1,1.1 0 1,0 -2.2,0M610.1,831.7a1.2,1.2 0 1,0 2.4,0a1.2,1.2 0 1,0 -2.4,0M567.8,933.0a1.1,1.1 0 1,0 2.1,0a1.1,1.1 0 1,0 -2.1,0M657.3,868.2a1.1,1.1 0 1,0 2.2,0a1.1,1.1 0 1,0 -2.2,0M587.4,953.9a1.1,1.1 0 1,0 2.1,0a1.1,1.1 0 1,0 -2.1,0M564.5,863.1a1.0,1.0 0 1,0 1.9,0a1.0,1.0 0 1,0 -1.9,0M675.2,937.1a0.8,0.8 0 1,0 1.5,0a0.8,0.8 0 1,0 -1.5,0M562.9,926.4a0.9,0.9 0 1,0 1.7,0a0.9,0.9 0 1,0 -1.7,0M600.9,962.0a0.7,0.7 0 1,0 1.4,0a0.7,0.7 0 1,0 -1.4,0M666.0,966.2a0.8,0.8 0 1,0 1.6,0a0.8,0.8 0 1,0 -1.6,0M658.2,884.2a0.9,0.9 0 1,0 1.7,0a0.9,0.9 0 1,0 -1.7,0M602.6,929.9a0.9,0.9 0 1,0 1.9,0a0.9,0.9 0 1,0 -1.9,0M612.3,845.9a1.3,1.3 0 1,0 2.6,0a1.3,1.3 0 1,0 -2.6,0M662.5,963.4a1.0,1.0 0 1,0 2.0,0a1.0,1.0 0 1,0 -2.0,0M701.2,912.9a1.1,1.1 0 1,0 2.2,0a1.1,1.1 0 1,0 -2.2,0M648.3,952.1a1.0,1.0 0 1,0 2.0,0a1.0,1.0 0 1,0 -2.0,0M577.3,828.8a1.3,1.3 0 1,0 2.6,0a1.3,1.3 0 1,0 -2.6,0M631.0,955.6a0.7,0.7 0 1,0 1.4,0a0.7,0.7 0 1,0 -1.4,0M657.1,897.3a1.0,1.0 0 1,0 2.1,0a1.0,1.0 0 1,0 -2.1,0M558.2,849.1a0.8,0.8 0 1,0 1.6,0a0.8,0.8 0 1,0 -1.6,0M610.1,889.7a1.3,1.3 0 1,0 2.6,0a1.3,1.3 0 1,0 -2.6,0M568.1,866.6a0.9,0.9 0 1,0 1.8,0a0.9,0.9 0 1,0 -1.8,0M569.9,872.4a0.9,0.9 0 1,0 1.7,0a0.9,0.9 0 1,0 -1.7,0M717.6,942.9a1.2,1.2 0 1,0 2.3,0a1.2,1.2 0 1,0 -2.3,0M561.6,939.5a0.9,0.9 0 1,0 1.8,0a0.9,0.9 0 1,0 -1.8,0M667.8,950.2a0.8,0.8 0 1,0 1.6,0a0.8,0.8 0 1,0 -1.6,0M577.5,826.3a0.9,0.9 0 1,0 1.7,0a0.9,0.9 0 1,0 -1.7,0M553.5,892.4a1.4,1.4 0 1,0 2.8,0a1.4,1.4 0 1,0 -2.8,0" fill="#0c0c0c"/>
<path d="M547.7,924.8 L546.3,924.4 L544.9,923.8 L543.6,922.9 L542.5,921.9 L541.4,920.6 L540.4,919.0 L539.6,917.3 L538.8,915.4 L538.2,913.2 L537.7,910.9 L537.3,908.4 L537.1,905.7 L537.0,902.9 L537.0,899.9 L537.1,896.8 L537.4,893.6 L537.7,890.3 L538.3,887.0 L538.9,883.5 L539.6,880.0 L540.5,876.5 L541.5,873.0 L542.5,869.5 L543.7,865.9 L545.0,862.5 L546.4,859.0 L547.8,855.7 L549.3,852.4 L550.9,849.2 L552.6,846.1 L554.3,843.1 L556.1,840.3 L557.8,837.7 L559.7,835.2 L561.5,832.9 L563.4,830.7 L565.2,828.8 L567.1,827.1 L568.9,825.6 L570.8,824.3 L572.6,823.2 L574.3,822.4 L576.0,821.8 L577.7,821.5 L579.3,821.4 L580.8,821.5 L582.2,821.9 L583.6,822.5" fill="none" stroke="#0c0c0c" stroke-width="5.15" stroke-linecap="round" stroke-linejoin="round"/>
<path d="M560.4,940.3 L558.8,940.0 L557.2,939.4 L555.7,938.5 L554.4,937.4 L553.1,936.0 L551.9,934.3 L550.9,932.4 L549.9,930.3 L549.1,927.9 L548.4,925.3 L547.8,922.6 L547.4,919.6 L547.1,916.4 L546.9,913.1 L546.9,909.6 L547.0,906.0 L547.2,902.3 L547.6,898.5 L548.1,894.6 L548.7,890.6 L549.5,886.6 L550.4,882.6 L551.4,878.5 L552.5,874.5 L553.7,870.5 L555.1,866.6 L556.5,862.7 L558.0,859.0 L559.6,855.3 L561.3,851.7 L563.0,848.3 L564.9,845.1 L566.7,842.0 L568.6,839.1 L570.6,836.4 L572.5,833.9 L574.5,831.6 L576.5,829.5 L578.5,827.7 L580.4,826.2 L582.4,824.9 L584.3,823.9 L586.2,823.1 L588.0,822.6 L589.8,822.4 L591.5,822.5 L593.2,822.8 L594.7,823.4" fill="none" stroke="#0c0c0c" stroke-width="3.36" stroke-linecap="round" stroke-linejoin="round"/>
<path d="M572.9,943.4 L571.3,943.1 L569.7,942.6 L568.2,941.7 L566.8,940.7 L565.5,939.3 L564.3,937.7 L563.2,935.8 L562.2,933.7 L561.4,931.4 L560.6,928.8 L560.0,926.1 L559.5,923.1 L559.1,920.0 L558.8,916.7 L558.7,913.2 L558.7,909.7 L558.9,906.0 L559.2,902.2 L559.6,898.3 L560.1,894.3 L560.7,890.3 L561.5,886.3 L562.4,882.3 L563.4,878.3 L564.6,874.3 L565.8,870.4 L567.1,866.5 L568.5,862.7 L570.0,859.0 L571.6,855.4 L573.3,852.0 L575.0,848.7 L576.8,845.6 L578.6,842.7 L580.4,839.9 L582.3,837.4 L584.2,835.1 L586.1,833.0 L588.1,831.2 L590.0,829.6 L591.9,828.3 L593.8,827.2 L595.6,826.4 L597.4,825.9 L599.2,825.6 L600.9,825.7 L602.5,825.9 L604.1,826.5" fill="none" stroke="#0c0c0c" stroke-width="3.58" stroke-linecap="round" stroke-linejoin="round"/>
<path d="M588.8,955.9 L586.9,955.6 L585.1,955.1 L583.3,954.2 L581.6,953.1 L580.0,951.7 L578.5,950.0 L577.1,948.0 L575.8,945.8 L574.6,943.3 L573.6,940.7 L572.7,937.7 L571.9,934.6 L571.2,931.3 L570.7,927.8 L570.4,924.1 L570.1,920.3 L570.1,916.4 L570.1,912.4 L570.3,908.2 L570.7,904.0 L571.2,899.8 L571.8,895.5 L572.5,891.2 L573.4,886.9 L574.5,882.7 L575.6,878.5 L576.9,874.3 L578.3,870.3 L579.7,866.3 L581.3,862.5 L583.0,858.9 L584.8,855.3 L586.6,852.0 L588.5,848.9 L590.5,845.9 L592.5,843.2 L594.5,840.7 L596.6,838.5 L598.7,836.5 L600.8,834.8 L602.9,833.3 L605.0,832.1 L607.1,831.3 L609.1,830.7 L611.2,830.4 L613.1,830.4 L615.0,830.6 L616.9,831.2" fill="none" stroke="#0c0c0c" stroke-width="4.70" stroke-linecap="round" stroke-linejoin="round"/>
<path d="M595.0,959.2 L593.2,958.8 L591.4,958.1 L589.7,957.1 L588.2,955.8 L586.7,954.3 L585.4,952.5 L584.2,950.5 L583.1,948.2 L582.1,945.7 L581.3,943.0 L580.6,940.1 L580.1,937.0 L579.7,933.7 L579.5,930.2 L579.4,926.6 L579.5,922.8 L579.7,919.0 L580.1,915.0 L580.7,911.0 L581.3,906.9 L582.1,902.8 L583.1,898.6 L584.2,894.5 L585.4,890.3 L586.7,886.3 L588.2,882.2 L589.8,878.3 L591.5,874.4 L593.2,870.7 L595.1,867.0 L597.0,863.6 L599.0,860.3 L601.1,857.1 L603.2,854.2 L605.4,851.5 L607.5,849.0 L609.7,846.7 L612.0,844.7 L614.2,842.9 L616.4,841.4 L618.6,840.1 L620.7,839.1 L622.8,838.4 L624.9,838.0 L626.9,837.9 L628.8,838.0 L630.7,838.4 L632.4,839.2" fill="none" stroke="#0c0c0c" stroke-width="3.36" stroke-linecap="round" stroke-linejoin="round"/>
<path d="M607.5,965.5 L605.7,965.0 L603.9,964.3 L602.3,963.3 L600.8,962.0 L599.4,960.4 L598.2,958.7 L597.1,956.6 L596.1,954.4 L595.2,951.9 L594.5,949.2 L593.9,946.3 L593.5,943.2 L593.2,939.9 L593.1,936.5 L593.2,932.9 L593.4,929.2 L593.7,925.5 L594.2,921.6 L594.8,917.6 L595.6,913.6 L596.6,909.6 L597.6,905.5 L598.8,901.5 L600.2,897.5 L601.6,893.5 L603.2,889.6 L604.8,885.7 L606.6,882.0 L608.5,878.3 L610.4,874.8 L612.4,871.5 L614.5,868.3 L616.6,865.3 L618.8,862.5 L621.0,859.9 L623.2,857.5 L625.5,855.3 L627.7,853.4 L629.9,851.7 L632.1,850.3 L634.3,849.1 L636.5,848.2 L638.6,847.6 L640.6,847.2 L642.6,847.1 L644.5,847.3 L646.3,847.8 L648.0,848.6" fill="none" stroke="#0c0c0c" stroke-width="4.48" stroke-linecap="round" stroke-linejoin="round"/>
<path d="M620.0,974.9 L618.2,974.4 L616.4,973.6 L614.8,972.6 L613.3,971.4 L611.9,969.8 L610.7,968.0 L609.6,966.0 L608.6,963.7 L607.7,961.2 L607.0,958.5 L606.4,955.6 L606.0,952.5 L605.7,949.3 L605.6,945.9 L605.7,942.3 L605.9,938.6 L606.2,934.8 L606.7,930.9 L607.3,927.0 L608.1,923.0 L609.1,919.0 L610.1,914.9 L611.3,910.9 L612.7,906.8 L614.1,902.9 L615.7,898.9 L617.3,895.1 L619.1,891.4 L621.0,887.7 L622.9,884.2 L624.9,880.9 L627.0,877.7 L629.1,874.7 L631.3,871.8 L633.5,869.2 L635.7,866.8 L638.0,864.7 L640.2,862.7 L642.4,861.1 L644.6,859.6 L646.8,858.5 L649.0,857.6 L651.1,856.9 L653.1,856.6 L655.1,856.5 L657.0,856.7 L658.8,857.2 L660.5,858.0" fill="none" stroke="#0c0c0c" stroke-width="3.81" stroke-linecap="round" stroke-linejoin="round"/>
<path d="M632.3,975.0 L630.7,974.4 L629.1,973.6 L627.7,972.5 L626.4,971.2 L625.2,969.7 L624.2,967.9 L623.3,965.9 L622.5,963.7 L621.9,961.3 L621.4,958.7 L621.1,956.0 L621.0,953.1 L621.0,950.0 L621.1,946.8 L621.4,943.5 L621.9,940.1 L622.5,936.6 L623.3,933.0 L624.2,929.3 L625.2,925.7 L626.4,922.0 L627.7,918.3 L629.1,914.6 L630.7,910.9 L632.3,907.3 L634.1,903.8 L636.0,900.3 L637.9,897.0 L639.9,893.7 L642.0,890.6 L644.1,887.6 L646.3,884.8 L648.5,882.2 L650.7,879.7 L653.0,877.4 L655.3,875.4 L657.5,873.5 L659.8,871.9 L662.0,870.5 L664.2,869.3 L666.3,868.4 L668.4,867.7 L670.4,867.3 L672.3,867.1 L674.1,867.2 L675.9,867.6 L677.5,868.1 L679.1,869.0" fill="none" stroke="#0c0c0c" stroke-width="3.36" stroke-linecap="round" stroke-linejoin="round"/>
<path d="M657.1,980.9 L655.7,980.6 L654.3,980.1 L653.0,979.4 L651.7,978.4 L650.6,977.2 L649.5,975.9 L648.6,974.3 L647.7,972.6 L647.0,970.6 L646.3,968.5 L645.8,966.2 L645.3,963.8 L645.0,961.2 L644.8,958.6 L644.7,955.8 L644.8,952.8 L644.9,949.8 L645.2,946.8 L645.5,943.6 L646.0,940.5 L646.6,937.2 L647.3,934.0 L648.2,930.8 L649.1,927.6 L650.1,924.4 L651.2,921.2 L652.4,918.1 L653.6,915.1 L655.0,912.2 L656.4,909.4 L657.9,906.7 L659.4,904.1 L661.0,901.6 L662.6,899.3 L664.2,897.2 L665.9,895.2 L667.6,893.5 L669.3,891.9 L671.0,890.5 L672.7,889.3 L674.4,888.3 L676.1,887.5 L677.7,886.9 L679.3,886.6 L680.8,886.5 L682.3,886.6 L683.8,886.9 L685.2,887.4" fill="none" stroke="#0c0c0c" stroke-width="4.26" stroke-linecap="round" stroke-linejoin="round"/>
<path d="M666.4,982.5 L665.0,982.2 L663.7,981.7 L662.4,981.0 L661.2,980.1 L660.0,979.0 L658.9,977.7 L658.0,976.2 L657.1,974.5 L656.3,972.6 L655.6,970.6 L655.0,968.4 L654.5,966.1 L654.1,963.6 L653.9,960.9 L653.7,958.2 L653.7,955.4 L653.7,952.4 L653.9,949.4 L654.2,946.4 L654.6,943.2 L655.1,940.1 L655.7,936.9 L656.4,933.8 L657.2,930.6 L658.1,927.5 L659.1,924.4 L660.2,921.3 L661.3,918.4 L662.6,915.5 L663.9,912.7 L665.3,910.0 L666.7,907.4 L668.2,905.0 L669.7,902.7 L671.2,900.6 L672.8,898.6 L674.4,896.8 L676.0,895.2 L677.7,893.8 L679.3,892.6 L680.9,891.6 L682.5,890.8 L684.1,890.2 L685.6,889.8 L687.2,889.7 L688.6,889.7 L690.0,890.0 L691.4,890.5" fill="none" stroke="#0c0c0c" stroke-width="3.36" stroke-linecap="round" stroke-linejoin="round"/>
<path d="M675.6,988.8 L674.4,988.4 L673.3,987.9 L672.2,987.2 L671.2,986.4 L670.3,985.3 L669.4,984.1 L668.7,982.8 L668.1,981.2 L667.5,979.6 L667.0,977.7 L666.7,975.8 L666.4,973.7 L666.3,971.5 L666.2,969.2 L666.3,966.9 L666.4,964.4 L666.7,961.9 L667.1,959.3 L667.5,956.6 L668.1,954.0 L668.7,951.3 L669.5,948.6 L670.3,945.9 L671.2,943.2 L672.3,940.5 L673.3,937.9 L674.5,935.4 L675.7,932.9 L677.0,930.5 L678.3,928.1 L679.7,925.9 L681.1,923.8 L682.5,921.8 L684.0,919.9 L685.5,918.2 L687.0,916.6 L688.5,915.2 L690.0,913.9 L691.5,912.8 L693.0,911.8 L694.5,911.1 L696.0,910.5 L697.4,910.1 L698.7,909.9 L700.1,909.8 L701.3,910.0 L702.5,910.3 L703.7,910.8" fill="none" stroke="#0c0c0c" stroke-width="4.03" stroke-linecap="round" stroke-linejoin="round"/>
<path d="M687.8,990.3 L686.9,990.0 L686.0,989.6 L685.2,989.0 L684.5,988.3 L683.8,987.4 L683.2,986.5 L682.7,985.4 L682.3,984.2 L681.9,982.8 L681.6,981.4 L681.4,979.9 L681.3,978.3 L681.3,976.6 L681.4,974.8 L681.5,973.0 L681.7,971.1 L682.0,969.1 L682.4,967.1 L682.9,965.1 L683.4,963.0 L684.0,961.0 L684.7,958.9 L685.5,956.9 L686.3,954.8 L687.2,952.8 L688.1,950.8 L689.1,948.9 L690.2,947.0 L691.3,945.2 L692.4,943.4 L693.5,941.8 L694.7,940.2 L695.9,938.7 L697.1,937.3 L698.4,936.0 L699.6,934.8 L700.8,933.8 L702.1,932.9 L703.3,932.1 L704.5,931.4 L705.7,930.9 L706.8,930.5 L707.9,930.2 L709.0,930.1 L710.0,930.2 L711.0,930.3 L711.9,930.6 L712.8,931.1" fill="none" stroke="#0c0c0c" stroke-width="3.81" stroke-linecap="round" stroke-linejoin="round"/>
<path d="M582.2,821.9 C584.0,821.9 587.7,820.4 593.1,821.9 C598.6,823.3 610.6,828.1 615.0,830.6 C619.4,833.1 617.1,835.6 619.7,836.9 C622.3,838.2 626.2,836.6 630.6,838.4 C635.1,840.3 643.4,845.2 646.2,847.8 C649.1,850.4 645.7,852.5 647.8,854.1 C649.9,855.6 653.8,854.8 658.8,857.2 C663.7,859.5 673.1,864.0 677.5,868.1 C681.9,872.3 684.3,879.1 685.3,882.2 C686.4,885.3 683.0,885.7 683.8,886.9 C684.5,888.1 687.7,887.3 690.0,889.4 C692.3,891.5 696.2,895.9 697.8,899.4 C699.4,902.9 698.3,908.2 699.4,910.3 C700.4,912.4 702.2,910.1 704.1,911.9 C705.9,913.7 709.0,918.1 710.3,921.2 C711.6,924.4 710.3,927.5 711.9,930.6 C713.4,933.8 716.6,937.9 719.7,940.0 C722.8,942.1 728.8,942.6 730.6,943.1" fill="none" stroke="#0c0c0c" stroke-width="4.03" stroke-linecap="round" stroke-linejoin="round"/>
<path d="M546.2,924.4 C548.3,927.0 554.6,936.9 558.8,940.0 C562.9,943.1 566.6,940.5 571.2,943.1 C575.9,945.7 581.7,952.0 586.9,955.6 C592.1,959.3 597.3,961.9 602.5,965.0 C607.7,968.1 614.0,973.1 618.1,974.4 C622.3,975.7 623.3,972.0 627.5,972.8 C631.7,973.6 638.4,977.8 643.1,979.1 C647.8,980.4 652.0,980.1 655.6,980.6 C659.3,981.1 661.9,980.9 665.0,982.2 C668.1,983.5 670.7,987.1 674.4,988.4 C678.0,989.7 682.7,989.0 686.9,990.0 C691.0,991.0 695.2,993.4 699.4,994.7 C703.5,996.0 709.8,997.3 711.9,997.8" fill="none" stroke="#0c0c0c" stroke-width="4.03" stroke-linecap="round" stroke-linejoin="round"/>
<path d="M727.3,942.1 L728.8,942.8 L730.1,944.1 L731.3,945.7 L732.2,947.8 L732.8,950.2 L733.3,952.9 L733.4,956.0 L733.3,959.2 L732.9,962.6 L732.3,966.1 L731.4,969.7 L730.3,973.2 L729.0,976.7 L727.5,980.1 L725.8,983.2 L724.0,986.1 L722.1,988.8 L720.1,991.0 L718.1,993.0 L716.1,994.5 L714.1,995.5 L712.2,996.1 L710.4,996.3 L708.7,995.9 L707.2,995.2 L705.9,993.9 L704.7,992.3 L703.8,990.2 L703.2,987.8 L702.7,985.1 L702.6,982.0 L702.7,978.8 L703.1,975.4 L703.7,971.9 L704.6,968.3 L705.7,964.8 L707.0,961.3 L708.5,957.9 L710.2,954.8 L712.0,951.9 L713.9,949.2 L715.9,947.0 L717.9,945.0 L719.9,943.5 L721.9,942.5 L723.8,941.9 L725.6,941.7 L727.3,942.1 Z" fill="#fff" stroke="#0c0c0c" stroke-width="5.15" stroke-linecap="round" stroke-linejoin="round"/>
<path d="M727.5,948.3 L728.7,948.9 L729.7,949.8 L730.5,951.2 L731.2,952.8 L731.7,954.7 L732.0,956.9 L732.1,959.3 L731.9,961.9 L731.6,964.7 L731.1,967.5 L730.4,970.4 L729.5,973.3 L728.4,976.1 L727.2,978.8 L725.9,981.3 L724.4,983.7 L722.9,985.8 L721.4,987.7 L719.8,989.2 L718.2,990.5 L716.7,991.3 L715.2,991.8 L713.8,992.0 L712.5,991.7 L711.3,991.1 L710.3,990.2 L709.5,988.8 L708.8,987.2 L708.3,985.3 L708.0,983.1 L707.9,980.7 L708.1,978.1 L708.4,975.3 L708.9,972.5 L709.6,969.6 L710.5,966.7 L711.6,963.9 L712.8,961.2 L714.1,958.7 L715.6,956.3 L717.1,954.2 L718.6,952.3 L720.2,950.8 L721.8,949.5 L723.3,948.7 L724.8,948.2 L726.2,948.0 L727.5,948.3 Z" fill="none" stroke="#0c0c0c" stroke-width="3.58" stroke-linecap="round" stroke-linejoin="round"/>
<path d="M727.5,954.9 L728.4,955.4 L729.1,956.1 L729.6,957.0 L730.1,958.2 L730.4,959.6 L730.6,961.2 L730.6,963.0 L730.5,964.9 L730.2,967.0 L729.8,969.0 L729.3,971.2 L728.6,973.3 L727.8,975.4 L727.0,977.4 L726.0,979.3 L725.0,981.0 L723.9,982.6 L722.8,984.0 L721.6,985.1 L720.5,986.1 L719.4,986.7 L718.4,987.1 L717.4,987.2 L716.5,987.1 L715.6,986.6 L714.9,985.9 L714.4,985.0 L713.9,983.8 L713.6,982.4 L713.4,980.8 L713.4,979.0 L713.5,977.1 L713.8,975.0 L714.2,973.0 L714.7,970.8 L715.4,968.7 L716.2,966.6 L717.0,964.6 L718.0,962.7 L719.0,961.0 L720.1,959.4 L721.2,958.0 L722.4,956.9 L723.5,955.9 L724.6,955.3 L725.6,954.9 L726.6,954.8 L727.5,954.9 Z" fill="none" stroke="#0c0c0c" stroke-width="3.14" stroke-linecap="round" stroke-linejoin="round"/>
<path d="M720.2,972.7a1.1,1.1 0 1,0 2.2,0a1.1,1.1 0 1,0 -2.2,0M720.6,971.2a0.9,0.9 0 1,0 1.8,0a0.9,0.9 0 1,0 -1.8,0M716.4,971.3a0.9,0.9 0 1,0 1.8,0a0.9,0.9 0 1,0 -1.8,0M725.6,959.4a0.7,0.7 0 1,0 1.5,0a0.7,0.7 0 1,0 -1.5,0M714.9,979.9a0.9,0.9 0 1,0 1.9,0a0.9,0.9 0 1,0 -1.9,0M723.2,961.2a0.6,0.6 0 1,0 1.1,0a0.6,0.6 0 1,0 -1.1,0M720.3,980.8a0.9,0.9 0 1,0 1.7,0a0.9,0.9 0 1,0 -1.7,0M723.2,971.0a0.9,0.9 0 1,0 1.9,0a0.9,0.9 0 1,0 -1.9,0" fill="#0c0c0c"/>
<path d="M692.2,992.3 L691.2,992.3 L690.3,992.1 L689.5,991.8 L688.7,991.3 L688.0,990.8 L687.3,990.0 L686.7,989.1 L686.1,988.1 L685.6,987.0 L685.2,985.7 L684.9,984.4 L684.7,982.9 L684.5,981.3 L684.4,979.6 L684.4,977.9 L684.5,976.1 L684.6,974.2 L684.8,972.2 L685.1,970.2 L685.5,968.2 L686.0,966.2 L686.5,964.1 L687.1,962.1 L687.7,960.0 L688.5,958.0 L689.2,956.0 L690.1,954.0 L691.0,952.1 L691.9,950.3 L692.9,948.6 L693.9,946.9 L694.9,945.3 L696.0,943.8 L697.0,942.4 L698.1,941.1 L699.2,940.0 L700.3,939.0 L701.4,938.1 L702.5,937.3 L703.6,936.7 L704.6,936.2 L705.6,935.9 L706.6,935.7 L707.6,935.7 L708.5,935.9 L709.3,936.1 L710.1,936.6 L710.9,937.1" fill="none" stroke="#0c0c0c" stroke-width="4.93" stroke-linecap="round" stroke-linejoin="round"/>
<path d="M681.9,989.5 L681.2,989.0 L680.6,988.5 L680.0,987.8 L679.4,987.0 L678.9,986.1 L678.5,985.0 L678.1,983.9 L677.7,982.8 L677.4,981.5 L677.2,980.1 L677.1,978.7 L677.0,977.2 L676.9,975.6 L676.9,974.0 L677.0,972.3 L677.2,970.5 L677.4,968.8 L677.6,967.0 L678.0,965.1 L678.3,963.3 L678.8,961.4 L679.3,959.5 L679.8,957.7 L680.4,955.8 L681.0,954.0 L681.7,952.1 L682.5,950.3 L683.2,948.6 L684.0,946.9 L684.9,945.2 L685.8,943.6 L686.7,942.1 L687.6,940.6 L688.5,939.2 L689.5,937.9 L690.5,936.6 L691.5,935.5 L692.4,934.4 L693.4,933.5 L694.4,932.6 L695.4,931.9 L696.4,931.2 L697.4,930.7 L698.3,930.3 L699.2,930.0 L700.1,929.8 L701.0,929.7 L701.9,929.7" fill="none" stroke="#0c0c0c" stroke-width="3.36" stroke-linecap="round" stroke-linejoin="round"/>
<path d="M782.0,977.3 L784.1,978.2 L785.9,979.5 L787.6,981.3 L789.0,983.6 L790.1,986.1 L791.0,989.1 L791.5,992.3 L791.8,995.7 L791.7,999.3 L791.3,1003.0 L790.6,1006.7 L789.7,1010.5 L788.4,1014.1 L786.9,1017.6 L785.1,1020.9 L783.2,1023.9 L781.0,1026.6 L778.8,1029.0 L776.5,1030.9 L774.1,1032.4 L771.7,1033.5 L769.3,1034.0 L767.0,1034.1 L764.8,1033.7 L762.7,1032.8 L760.9,1031.5 L759.2,1029.7 L757.8,1027.4 L756.7,1024.9 L755.8,1021.9 L755.3,1018.7 L755.0,1015.3 L755.1,1011.7 L755.5,1008.0 L756.2,1004.3 L757.1,1000.5 L758.4,996.9 L759.9,993.4 L761.7,990.1 L763.6,987.1 L765.8,984.4 L768.0,982.0 L770.3,980.1 L772.7,978.6 L775.1,977.5 L777.5,977.0 L779.8,976.9 L782.0,977.3 Z" fill="#fff" stroke="#0c0c0c" stroke-width="4.48" stroke-linecap="round" stroke-linejoin="round"/>
<path d="M745.3,978.1 C747.9,976.6 755.9,979.2 757.8,984.4 C759.7,989.6 757.2,1002.6 756.6,1009.4 C755.9,1016.1 754.7,1021.2 753.9,1025.0 C753.1,1028.8 753.1,1032.0 751.6,1032.0 C750.0,1032.0 746.1,1028.3 744.5,1025.0 C742.9,1021.7 742.3,1017.7 741.9,1012.5 C741.5,1007.3 741.6,999.5 742.2,993.8 C742.8,988.0 742.7,979.7 745.3,978.1 Z" fill="#fff" stroke="#0c0c0c" stroke-width="4.03" stroke-linecap="round" stroke-linejoin="round"/>
<path d="M741.9,1008.6 L756.6,1010.2" fill="none" stroke="#0c0c0c" stroke-width="3.14" stroke-linecap="butt" stroke-linejoin="round"/>
<path d="M773.4,987.5 C771.5,989.3 764.5,994.3 761.7,998.4 C759.0,1002.6 757.7,1007.8 757.0,1012.5 C756.4,1017.2 757.7,1024.2 757.8,1026.6" fill="none" stroke="#0c0c0c" stroke-width="3.58" stroke-linecap="round" stroke-linejoin="round"/>
<path d="M776.6,990.6 L768.8,1007.8 L758.1,1026.6" fill="none" stroke="#0c0c0c" stroke-width="5.15" stroke-linecap="butt" stroke-linejoin="round"/>
<path d="M759.1,966.4 L773.1,966.4 L774.4,976.9 L758.1,976.9 Z" fill="#0c0c0c" stroke="#0c0c0c" stroke-width="1.68" stroke-linejoin="round"/>
<path d="M773.4,976.9 L785.6,978.1 L787.5,988.3 L775.0,985.6 Z" fill="#0c0c0c" stroke="#0c0c0c" stroke-width="1.68" stroke-linejoin="round"/>
<path d="M768.8,1007.8 L785.9,1016.4" fill="none" stroke="#0c0c0c" stroke-width="3.14" stroke-linecap="butt" stroke-linejoin="round"/>
</g>
</svg>
</body></html>
